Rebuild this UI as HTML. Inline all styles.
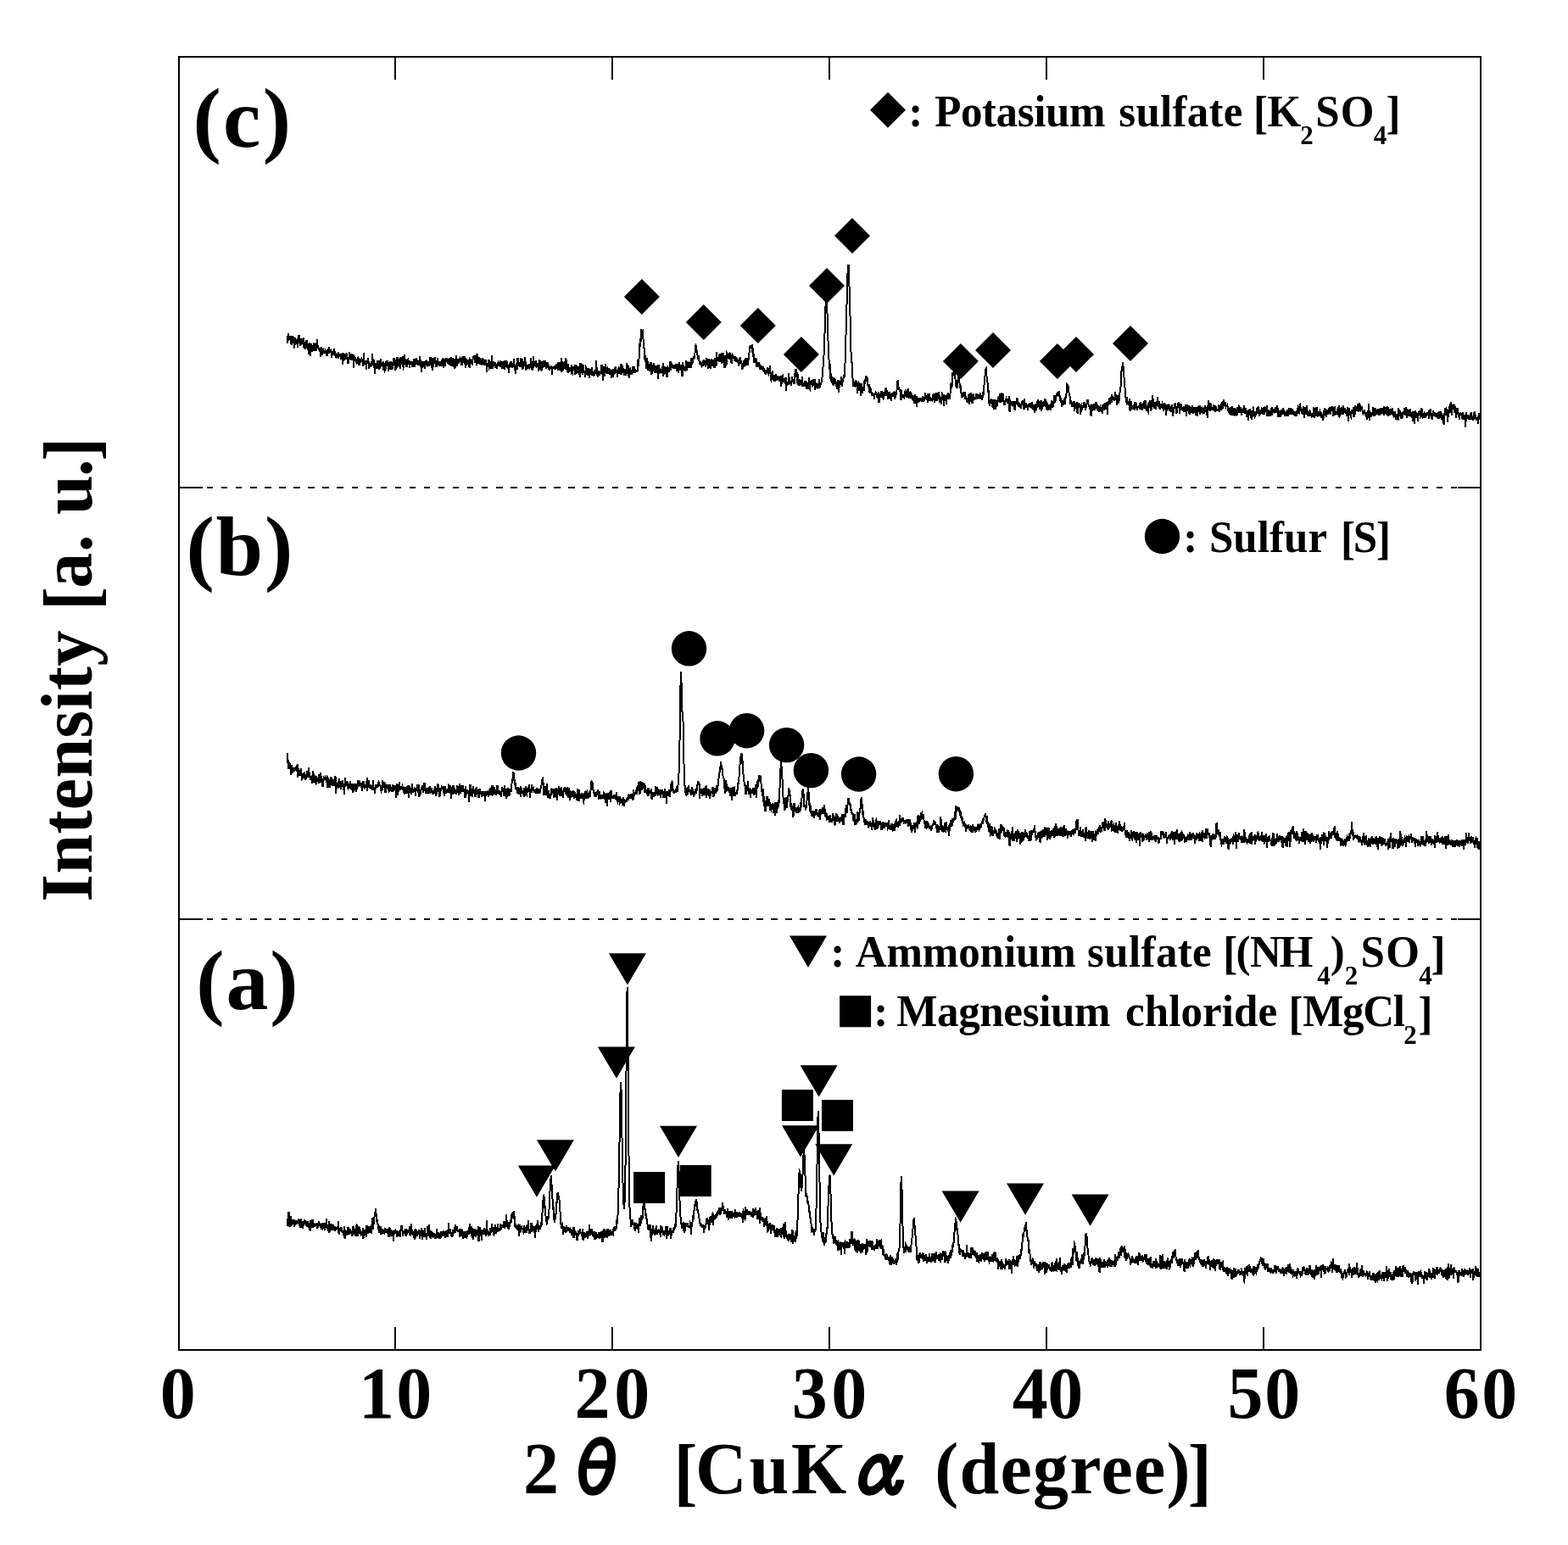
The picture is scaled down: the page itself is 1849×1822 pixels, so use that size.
<!DOCTYPE html>
<html lang="en">
<head>
<meta charset="utf-8">
<title>XRD patterns</title>
<style>
html,body{margin:0;padding:0;background:#fff;}
body{width:1849px;height:1822px;overflow:hidden;}
svg{display:block;}
</style>
</head>
<body>
<svg width="1849" height="1822" viewBox="0 0 1849 1822">
<rect width="1849" height="1822" fill="#fff"/>
<g id="frame" shape-rendering="crispEdges">
<rect x="211" y="67" width="1535" height="1525" fill="none" stroke="#000" stroke-width="2"/>
<path d="M466 67v27M466 1592v-27M722 67v27M722 1592v-27M978 67v27M978 1592v-27M1234 67v27M1234 1592v-27M1490 67v27M1490 1592v-27M211 575h27.5M1746 575h-27.5M211 1084h27.5M1746 1084h-27.5" fill="none" stroke="#000" stroke-width="2"/>
<path d="M209.8 575H1746" fill="none" stroke="#000" stroke-width="2" stroke-dasharray="7.4 9.66"/>
<path d="M209.8 1084H1746" fill="none" stroke="#000" stroke-width="2" stroke-dasharray="7.4 9.66"/>
</g>
<g id="curves" fill="none" stroke="#000" stroke-width="2" stroke-linejoin="miter" shape-rendering="crispEdges">
<path d="M338.5 405.1l.4-4.6 .4-.9 .4-6.7 .4 5.7 .4 0 .4 1.1 .4-1.7 .4 2.2 .4-1.4 .4-2.7 .4 7.8 .4 .2 .4 3.1 .4-5.7 .4-1.4 .4-.4 .4-3.4 .4 9 .4-7.2 .4-.3 .4 3.5 .4 9.7 .4-8 .4-4.3 .4 1.2 .4 4.7 .4-2.6 .4-2.1 .4 2 .4 3.5 .4 4.4 .4-11.1 .4 2.3 .4-.4 .4-5.5 .4 5.4 .4-.2 .4 7.8 .4-4.2 .4-5 .4 8.1 .4-3.3 .4-4.6 .4 4.2 .4 .2 .4-.8 .4 3.4 .4-7.9 .4 7.1 .4 4.6 .4-.5 .4 1.1 .4 .1 .4 1.4 .4-9 .4 6.9 .4-9.3 .4 4.5 .4-4.5 .4 10.4 .4 1.2 .4-5.3 .4 11.4 .4-12.8 .4 3 .4 .1 .4-4.1 .4 5.4 .4 10 .4-14.8 .4 6.8 .4-3.5 .4 6.8 .4-4.4 .4 .7 .4 0 .4-1.3 .4-5.7 .4 9.8 .4-9.6 .4 5.7 .4 1.4 .4-5 .4 3.6 .4 3.7 .4-4 .4-2.8 .4-6.9 .4 7 .4 1.6 .4-.8 .4 0 .4 5 .4-3.1 .4 1.9 .4 3.1 .4-5.1 .4 2.1 .4 8.8 .4-4.3 .4-7.4 .4 4.4 .4 2.4 .4 2.5 .4-3.7 .4-2.3 .4-.6 .4 4.9 .4-1.1 .4-2.8 .4 1.2 .4-.7 .4 4 .4-4.8 .4 4.1 .4 1.4 .4-1.2 .4-4.6 .4 7.7 .4-7.2 .4 3.9 .4-4.2 .4-3.5 .4 6.9 .4 .2 .4-1.3 .4 1.2 .4-3.2 .4-.3 .4 2.1 .4 7.3 .4-3.7 .4-4.5 .4 5.3 .4-4.8 .4 .3 .4 4.9 .4-4.6 .4-3.8 .4 3 .4 3.8 .4 .4 .4 4.2 .4-6.5 .4 5.3 .4-.8 .4-1.8 .4 3.6 .4-1 .4-4.6 .4 6.8 .4-7.9 .4 4.5 .4-.2 .4 1.5 .4-4 .4 2.5 .4-.4 .4 4.1 .4-6.3 .4 3.2 .4-1.1 .4-3.5 .4 14 .4-9.4 .4-4.8 .4 10.3 .4-8.4 .4 5.2 .4 1.9 .4-5.1 .4 .9 .4-1.6 .4 2.9 .4-5.1 .4 1.5 .4 3.9 .4 4.2 .4-1.4 .4 3.9 .4-3.6 .4-4.3 .4 1.4 .4-6.8 .4 3.7 .4-.2 .4 4.4 .4 1.3 .4-4.3 .4-.1 .4-3.3 .4 4.9 .4 1.4 .4 .7 .4-6.1 .4 16.6 .4-7.6 .4-4.4 .4-1.3 .4 .8 .4 1.8 .4-.5 .4 1.9 .4 1.1 .4 2.1 .4-.6 .4-4.4 .4 1.8 .4-2.6 .4-.7 .4 8.9 .4-8.3 .4 8.7 .4-8.1 .4 2.1 .4 3.1 .4-3.7 .4 1.5 .4-2.1 .4-.7 .4 1.2 .4-1.5 .4 8.1 .4-6.1 .4 6.8 .4-15.3 .4 9.6 .4 2.1 .4-2.8 .4 4.9 .4-1.5 .4-3.1 .4 2.5 .4 8.3 .4-8.9 .4 .1 .4-2.6 .4 1.9 .4-5.1 .4 3.7 .4 9.2 .4-5 .4-1.7 .4 4.2 .4 0 .4-4.6 .4 5.1 .4-3.5 .4-3.1 .4 5.5 .4-14.1 .4 6.4 .4 3.1 .4-3.9 .4 2.9 .4-1.4 .4 .3 .4 16.3 .4-11.2 .4-2.1 .4 5.1 .4-5.1 .4 4.2 .4-1.7 .4 4.7 .4-10.4 .4 7.8 .4-2.2 .4-4.4 .4 7.9 .4-8.9 .4 10.8 .4-3.9 .4 .6 .4-2.3 .4 2.8 .4-9.8 .4 6.7 .4-2.5 .4 3.1 .4-1.2 .4 2.3 .4-5.2 .4 9.3 .4 1.7 .4-8.8 .4 .7 .4 1.2 .4 6.7 .4-.7 .4-10.7 .4 2.3 .4-1.3 .4 0 .4-1.6 .4 7.1 .4-5.1 .4 9.4 .4 .2 .4-8.9 .4 0 .4 1.4 .4 7 .4-7.9 .4-2.4 .4 5 .4 1.3 .4-3.7 .4 7.9 .4-5 .4 .7 .4-4.7 .4 2.7 .4-.5 .4-7.5 .4 8.9 .4-7.4 .4 6.1 .4-5.2 .4 12.1 .4-6 .4 1.8 .4 .1 .4-7.9 .4-3.5 .4 6.7 .4 4.2 .4-2.9 .4 2.3 .4 .4 .4-8.6 .4 6.1 .4 5.8 .4-10.4 .4-3.7 .4 6.2 .4-.8 .4 4 .4-5.6 .4 3.5 .4-8 .4 10.8 .4 2.7 .4-.9 .4-9.7 .4 6.6 .4-11.4 .4 11.6 .4-1.1 .4-5.6 .4 7.3 .4-.7 .4 2.9 .4-2.9 .4 .4 .4-7.7 .4 2.6 .4 2.3 .4 2.6 .4-1.3 .4 5.1 .4-8.5 .4 2.1 .4 1.5 .4-1.9 .4 2.4 .4-3.8 .4 6.9 .4-6.2 .4 5.1 .4-4 .4 5.4 .4-10 .4 6.8 .4-3.1 .4 2.5 .4 3.5 .4-8 .4-.5 .4 1.3 .4 4.5 .4-7.3 .4 7 .4-4.8 .4 .5 .4 2.8 .4 2.6 .4-3.6 .4 .5 .4 1.5 .4-.8 .4-8.4 .4 7.8 .4 2 .4 3.3 .4 5.9 .4-7.4 .4-2.1 .4-3.7 .4 3.7 .4 2.3 .4 1.6 .4-7.6 .4 3.8 .4 1.9 .4 3.6 .4-5.8 .4-2.9 .4-.7 .4 1.1 .4-1.2 .4 5.1 .4 .8 .4-1.3 .4 1.6 .4-5.9 .4 2.9 .4-2.7 .4 1.4 .4 4.1 .4-4.4 .4-6.5 .4 5.6 .4-1.7 .4-2.9 .4 2.4 .4 6.1 .4 6.5 .4-11.8 .4 5.1 .4 .6 .4-8.3 .4 3.9 .4-.1 .4 .8 .4-6.2 .4 4.4 .4 5 .4 .7 .4 2.1 .4-7.5 .4 7.8 .4-4.1 .4-7 .4 7.5 .4-3.7 .4 3.2 .4-2.1 .4 4.7 .4-3.2 .4-1.8 .4 4.4 .4-2.4 .4-2.3 .4 5.9 .4-5.9 .4-2.4 .4 1.8 .4-3.3 .4 3.1 .4 8.4 .4-9.8 .4 3.1 .4-4 .4 1.6 .4 7.4 .4-2.3 .4-5.3 .4 2.1 .4-4.9 .4 2.1 .4-.4 .4 .1 .4 4.4 .4 1 .4-.2 .4-2.2 .4-4.1 .4 4.6 .4-2.9 .4 6.4 .4-1.1 .4 .6 .4-3.8 .4-5.1 .4 9.6 .4 .9 .4-9.6 .4 5.6 .4 3.5 .4-8 .4 9.8 .4-7.5 .4-2.7 .4 11.8 .4-7.2 .4-3.4 .4 5.3 .4-10 .4 13.1 .4-9.2 .4 3.9 .4-2.4 .4 2.9 .4 1.7 .4-6 .4 5.7 .4-3.7 .4-1.3 .4 1.7 .4-2.7 .4 .8 .4 6.1 .4-3.8 .4 4.6 .4-2.5 .4-5.1 .4-3.1 .4 4.2 .4 3.3 .4-1 .4-2.9 .4 6.4 .4-9.7 .4 1.7 .4 5.2 .4 6.9 .4-6.2 .4-4.9 .4 5.6 .4 .4 .4 .9 .4-4.6 .4-1.4 .4 3.3 .4 1 .4 4.2 .4 1.7 .4-9.9 .4 .6 .4 1.6 .4-.7 .4 2.4 .4-.1 .4-.9 .4 3.7 .4-5.4 .4-3.2 .4-2 .4 1.8 .4-.2 .4-3.1 .4 8.7 .4-1.8 .4-2.2 .4-1.7 .4-2.5 .4 2.3 .4 9.6 .4-14.2 .4 8.3 .4 4 .4-3.6 .4-1.8 .4 3.9 .4-6.4 .4 5.9 .4 3.2 .4-8.6 .4 1 .4 3.4 .4 3.2 .4 1.3 .4-2.2 .4-4.5 .4-1.4 .4 4.9 .4 .7 .4-5.1 .4 4.2 .4 1.1 .4 2.7 .4-6.9 .4 5.5 .4-5.9 .4 2.8 .4 1.3 .4 5.7 .4 5.5 .4-9.7 .4 .9 .4 1.9 .4-8.2 .4 9.3 .4-8.8 .4 10.1 .4-.6 .4-3.3 .4-4.5 .4 8.7 .4-4.9 .4-.5 .4 1.6 .4-12.2 .4 11.7 .4 4.5 .4-4.8 .4-.7 .4-3.8 .4 5.6 .4-1.6 .4-.7 .4-2 .4 4.9 .4 1.4 .4-3.1 .4 1.8 .4 1.4 .4 .9 .4-4.8 .4-1.6 .4-.8 .4 1.5 .4 1.8 .4 1.3 .4-4.8 .4 1.9 .4-4 .4 7.9 .4-5.8 .4 2.7 .4-3.7 .4 1.6 .4-1.3 .4 8.5 .4-4.5 .4-1.7 .4-2.5 .4 1.4 .4 4.3 .4 4 .4-10.6 .4 2 .4 2.8 .4-1.5 .4-3.4 .4 6 .4 2.6 .4-8.1 .4 6.3 .4 2.6 .4 .1 .4-5 .4 10.8 .4-7.6 .4-4.9 .4 6.1 .4-7.5 .4 6.9 .4-7.7 .4 7 .4-5 .4 5.9 .4-1.5 .4-.1 .4-2.5 .4 3.5 .4-10.2 .4 7.8 .4 0 .4 .5 .4 1 .4 8.8 .4-11.2 .4 2.5 .4-2.2 .4 5 .4-12.5 .4 13.1 .4-8.2 .4-5.5 .4 4.2 .4 3.1 .4 1.3 .4-.8 .4 3 .4-3 .4-.2 .4-7.3 .4 9.2 .4 1.8 .4-5 .4-5.1 .4 1.9 .4 10.5 .4-7.9 .4-.2 .4-.4 .4 5.3 .4-4.3 .4-.9 .4-5.8 .4 8.7 .4 6.5 .4-6.7 .4 6.3 .4-4.5 .4 .1 .4 .2 .4-.4 .4 3.6 .4-1.9 .4-3.6 .4 2.4 .4-.7 .4 1.9 .4-1.1 .4 1.8 .4-11.4 .4 10 .4 3.2 .4-9.4 .4 10.2 .4-4.7 .4-1.8 .4-10.1 .4 14.4 .4-7.2 .4 1.6 .4 3.7 .4-5.5 .4 .1 .4-.5 .4 3.6 .4 2.5 .4-.6 .4 .1 .4-2.7 .4 1.7 .4-2.9 .4 9.4 .4-5.8 .4-8.1 .4 3.1 .4 9.2 .4-10.4 .4 3.2 .4 2.8 .4-5.3 .4 10.1 .4-.5 .4-8.8 .4 6.8 .4-7.1 .4-.4 .4 5 .4-.6 .4-2.8 .4 5.1 .4-7.9 .4 2.3 .4-.6 .4 6.7 .4 .4 .4-.2 .4-6.6 .4 5.2 .4 1.4 .4-6.9 .4 3 .4 5.4 .4 .4 .4-1.4 .4 1.2 .4-.6 .4-.5 .4-.9 .4-2.6 .4 2.2 .4-.6 .4 9.5 .4-7.3 .4-1 .4-.8 .4 0 .4-1 .4 3.4 .4-2.1 .4 2.9 .4-5.4 .4 3.6 .4 1.8 .4-7.2 .4 4.6 .4 .3 .4-2 .4-.5 .4-4.7 .4 10.5 .4-7.2 .4-.9 .4 6.7 .4-8.6 .4 9.9 .4-1.8 .4 .7 .4-2.7 .4-3.7 .4-7 .4 16 .4-8.2 .4 .4 .4 6.6 .4-8.3 .4 .6 .4-.5 .4-.1 .4-3 .4 2 .4 6.9 .4 .9 .4-13.7 .4 4.3 .4 8.6 .4-.9 .4-.5 .4 5.2 .4-9.6 .4 10.5 .4-3.7 .4 1.4 .4-1.1 .4 2 .4-3.9 .4-1.1 .4 4.5 .4-2.2 .4-5.1 .4 9.1 .4-.5 .4 .8 .4-4.8 .4 1 .4-2.5 .4-1.9 .4 3.7 .4 .6 .4-2.8 .4 8.9 .4-11.9 .4 1 .4 2.6 .4 7 .4-5.4 .4-.2 .4-1.9 .4 .4 .4-1.9 .4 8 .4-1.5 .4 3.7 .4-8.3 .4 11 .4-12.3 .4-3.9 .4 6.1 .4 1.4 .4 4 .4-10.6 .4 8.1 .4 4 .4-8.9 .4 .4 .4-3.2 .4 6.9 .4 2.3 .4-.2 .4 .4 .4 5.6 .4-7.8 .4 5.4 .4-8.8 .4 .7 .4 3.7 .4-3.6 .4 5 .4 3 .4-3.3 .4-3.9 .4 0 .4 10.8 .4-10.8 .4 3.2 .4-1.2 .4 1.2 .4 3.7 .4-5.7 .4-3 .4 10 .4-4.2 .4 3.5 .4-4.3 .4 2.7 .4 1.8 .4 .3 .4-5.8 .4-.2 .4 2.6 .4-.7 .4 1.3 .4-4.5 .4-10.6 .4 14.8 .4 1.2 .4-.5 .4 3.6 .4-2.7 .4-4.3 .4 4.8 .4-3.7 .4 4.7 .4-3.6 .4 .8 .4-.9 .4-.6 .4-9.2 .4 9 .4-8.2 .4 9.5 .4 1.6 .4 7.7 .4-10.1 .4-3.9 .4-3.2 .4 12.2 .4-11.9 .4 8 .4-11.3 .4 7.9 .4 2.5 .4-1.3 .4-1.3 .4-2.7 .4-.3 .4 6.7 .4-1.9 .4-2 .4 1.4 .4-3.9 .4 6.9 .4 1 .4-7 .4 3.3 .4 3.5 .4-5.8 .4 9.6 .4-1.7 .4-6.1 .4 4.5 .4 2.4 .4-10.1 .4 6.6 .4-2.7 .4-.3 .4 3.1 .4-4.2 .4-3.4 .4-.3 .4 4.8 .4 2 .4-2.5 .4-.6 .4 .2 .4 7.6 .4-6 .4-4.6 .4 1.5 .4 5.1 .4-6.3 .4 .6 .4 1.2 .4-3.6 .4 6.9 .4-10.8 .4 12.8 .4-6.6 .4-5.9 .4 8.6 .4-6.9 .4 7.9 .4 .9 .4-4.6 .4 .7 .4 7 .4-7.9 .4 2.5 .4 1.1 .4 4.3 .4-7.2 .4 1.9 .4 3.8 .4-12.9 .4 7.9 .4-5.8 .4 .2 .4 13.2 .4-6.2 .4 8 .4-9.7 .4 2.7 .4-3.5 .4-.4 .4 1.6 .4 .7 .4 4.8 .4-6 .4 2 .4-2.3 .4 1.4 .4-5 .4 8.3 .4-5.7 .4 1.9 .4-.9 .4 4 .4-1.7 .4-2 .4 .3 .4 .2 .4 .9 .4-.4 .4 .5 .4-.2 .4-5 .4-8.4 .4 7.5 .4-1.8 .4-12.3 .4-3.3 .4-9.2 .4 3.9 .4-9.5 .4 3.8 .4-15.1 .4 4.7 .4 .8 .4-2.3 .4-.5 .4 7.6 .4 1.7 .4 4.7 .4 5.2 .4 1.4 .4 5.9 .4 6.6 .4-.9 .4 4.1 .4-1.2 .4 9.3 .4-8.5 .4 8.4 .4-13.1 .4 7.7 .4-2.1 .4 9.1 .4-2.4 .4-5.4 .4 2.6 .4 6.6 .4-4.8 .4 2.2 .4-7.2 .4 0 .4 7.3 .4 6.1 .4-9.8 .4 4 .4-5.2 .4 7.8 .4-5.7 .4 .2 .4-4.8 .4 5.4 .4 2.3 .4 4.4 .4-8.7 .4 7.8 .4-4.4 .4 .4 .4-2 .4-2.5 .4 1.9 .4 14 .4-13.6 .4 2.7 .4 5.4 .4-11.2 .4 9 .4-3.4 .4 2.4 .4 2.3 .4-3.6 .4-.3 .4 3.1 .4-.4 .4-4.9 .4 1.8 .4-7.6 .4 15.6 .4-11.9 .4 4.9 .4 5.4 .4-3.4 .4-3.8 .4-1.6 .4 .4 .4 5.3 .4-2.1 .4-1.2 .4 9 .4-12.1 .4-.3 .4 1.6 .4 1.9 .4 .8 .4-2.8 .4 3.3 .4-.8 .4-3.1 .4-7.6 .4 11.2 .4-6.1 .4-.7 .4 3.4 .4-3.8 .4 1.5 .4 3 .4-1.4 .4 2.3 .4-4.1 .4 2.1 .4-2.9 .4 2.6 .4 2 .4-1.9 .4-4.3 .4 4.3 .4 1.1 .4 3.4 .4-4.1 .4-1.4 .4-2.7 .4 11.1 .4-10.3 .4-.6 .4 3.4 .4-5.8 .4 10.2 .4-3.1 .4 1.2 .4-5.1 .4 1.6 .4 6.8 .4-1.8 .4 6.8 .4-6.1 .4-10.5 .4 6.8 .4-1.6 .4 4.9 .4-4.3 .4 1.9 .4-3 .4 3 .4 2.7 .4-7.5 .4-5.2 .4 3.2 .4 8.8 .4-4.9 .4-2 .4-2.5 .4 6.8 .4-2.8 .4-1.6 .4-1.6 .4 1.2 .4-.7 .4 3 .4 2.2 .4-11.4 .4 1.5 .4 4.4 .4 .2 .4-6.2 .4 .9 .4 1.3 .4-1.6 .4-1.9 .4-.9 .4 .6 .4-3.2 .4-3.1 .4-3.1 .4-4.3 .4 .7 .4 6.3 .4-1.1 .4 4.8 .4 1 .4 1.9 .4 3.4 .4-4.9 .4 5.5 .4-.1 .4 5.6 .4-4.8 .4 3.3 .4-2.2 .4 3.2 .4 .8 .4-3.3 .4 1 .4 .2 .4 3.7 .4-6.6 .4 2.2 .4-1.7 .4-1.9 .4 4 .4 .9 .4-4.3 .4 8.4 .4-8 .4 5.3 .4-1.2 .4-7.2 .4 6 .4-5.4 .4 5.2 .4 2.8 .4 4.2 .4-3.7 .4-8.1 .4 4.1 .4 6.5 .4-4.6 .4 5.5 .4-10.8 .4 2.5 .4-2.9 .4 3.3 .4 5.7 .4-7.8 .4 6 .4-1.4 .4 1 .4-3.9 .4 .8 .4 7.2 .4-12 .4 6.8 .4 2.4 .4-3.9 .4 3.9 .4-16.4 .4 9.1 .4-3.3 .4 2.5 .4 .9 .4 1.9 .4-4.9 .4 6 .4-8.7 .4 8.8 .4-4.3 .4-5.4 .4 0 .4-.1 .4 2.8 .4 4 .4 4.3 .4-1.7 .4-7.3 .4-3.2 .4 7.2 .4-3.8 .4 4.5 .4-1.7 .4 11.4 .4-14.9 .4 7.1 .4 5.3 .4-8 .4-1.5 .4 8.2 .4-13.7 .4 .7 .4 .7 .4 4.2 .4-.2 .4-4.6 .4 6.7 .4-8.3 .4 1.2 .4 .2 .4 6.5 .4-2.9 .4-.4 .4 8 .4-.9 .4-.8 .4-7.9 .4 .8 .4 2.9 .4-.1 .4-.6 .4 .7 .4 3.1 .4-5.8 .4 4.5 .4-2.1 .4-.2 .4 .9 .4 3.8 .4-1.4 .4-3.5 .4 4.2 .4-.4 .4 1.3 .4-2.1 .4 7.1 .4-4.2 .4-5 .4-.2 .4-.2 .4 6.6 .4-3.6 .4 1.4 .4 1.2 .4 4.7 .4 3.4 .4-8 .4 7.4 .4-5.1 .4 2.3 .4-5.3 .4-3.5 .4 5.8 .4 2.7 .4-10.2 .4 4.9 .4 1.4 .4 .5 .4-6.2 .4 1.4 .4 4.6 .4 2.2 .4-7 .4 1.4 .4-4.7 .4-1.4 .4-5.4 .4-2.2 .4-3.7 .4 .2 .4 2.2 .4-2.5 .4 3.1 .4-1.7 .4 7.1 .4-9.8 .4 8.2 .4 5.9 .4-3.3 .4 9.6 .4-.1 .4-3.1 .4 4.1 .4-5.1 .4 2.5 .4 2.1 .4-4 .4 9.5 .4-5.7 .4 6 .4-3.9 .4 1.7 .4-4.1 .4 2.2 .4-.3 .4 2.6 .4 4.4 .4-6.4 .4 1.8 .4 2.3 .4 2.2 .4-3 .4-.6 .4-.2 .4 2.5 .4 1.2 .4-2.8 .4 1.7 .4 4.1 .4-2.4 .4-1.5 .4 4.8 .4 2 .4-1.8 .4 .5 .4-3.5 .4 2.3 .4 .6 .4-.4 .4-6.4 .4 6.4 .4 1.6 .4 .8 .4-2.5 .4 1.5 .4-6 .4 1.5 .4-4.8 .4 9.9 .4 6.8 .4 .7 .4-9.8 .4 6.5 .4 2.4 .4-5.2 .4-5.6 .4 12.1 .4-6.1 .4 0 .4 7.5 .4-4.2 .4 1.4 .4 2.8 .4-6.1 .4-2.8 .4 6.3 .4-2.6 .4 2.8 .4 0 .4-4.9 .4 3 .4-1 .4 .6 .4 .9 .4 1.7 .4-.3 .4-5 .4 6.9 .4-7.1 .4 12.9 .4-10.3 .4 2.5 .4 4.9 .4-5.4 .4-3.8 .4-.6 .4 5.9 .4 .4 .4 1.4 .4-1.9 .4-2.7 .4 3.4 .4 3.5 .4-7.7 .4 15.4 .4-13.8 .4 5.9 .4 2.4 .4-3.2 .4-1.9 .4 1.7 .4 2.4 .4-13.7 .4 11.1 .4-2.8 .4-.8 .4 3 .4 .4 .4 1.3 .4-3.7 .4 6.1 .4-11.2 .4 3.9 .4-.9 .4 4.5 .4-2.4 .4 4.4 .4-6.6 .4 6 .4-3.5 .4-6.2 .4-6 .4-.2 .4-2.1 .4 9.4 .4-.2 .4-4.8 .4 12.6 .4-5.7 .4-5.4 .4 12.4 .4 1.4 .4-4.2 .4-2.9 .4 7.6 .4-5.9 .4 1.8 .4 1.9 .4-.5 .4-2.5 .4-1.9 .4 8.3 .4-12 .4 9 .4 0 .4 1.1 .4-2.9 .4 2.2 .4 2.2 .4-6.2 .4 4 .4 2.2 .4-6.5 .4 1.2 .4 8.9 .4-1.8 .4-6.2 .4 5.2 .4-1.2 .4 3.5 .4-1 .4-12.6 .4 7.3 .4 5.7 .4 .8 .4-8 .4-2.3 .4 5.1 .4-3.3 .4 2.1 .4-4.1 .4 6.7 .4-.6 .4-.4 .4-5.3 .4-2 .4 1.6 .4 6.3 .4-7.9 .4 8.7 .4 4.1 .4-8.2 .4 1.6 .4 4.2 .4-.2 .4-5.3 .4 1.5 .4 .9 .4-1.4 .4 2.7 .4-1 .4 3.1 .4-10.6 .4 9.6 .4-1.7 .4-3.7 .4 1.4 .4 1.1 .4-3.2 .4-3.2 .4 .6 .4-6.4 .4-5.5 .4-3.4 .4-5.8 .4-5.1 .4-6.3 .4-14 .4-8.8 .4-15.8 .4-12.1 .4-8.7 .4-5.1 .4 1.2 .4 8.2 .4 2.2 .4 15.3 .4 10.4 .4 13.8 .4 7.3 .4 12.6 .4 4.1 .4 9.5 .4-6.3 .4 14 .4 3.3 .4-6.1 .4 9.3 .4-5.9 .4 7.8 .4-3 .4 2.7 .4-.9 .4-5.1 .4 9.6 .4-1 .4-7.4 .4 5.6 .4-.1 .4-3.7 .4-1 .4 8.2 .4-5.5 .4 4.8 .4 3.7 .4-4.6 .4-4.5 .4 6.7 .4-7.9 .4 1.8 .4 13.2 .4-12.6 .4 3.9 .4-4.8 .4 3.1 .4 1 .4-9.9 .4 6.5 .4 4.1 .4 .2 .4-2.4 .4-5.1 .4 3.3 .4-4.6 .4-3 .4-.6 .4 2.9 .4-15.4 .4-1.6 .4-11.6 .4-16 .4-11.8 .4-13.3 .4-16.7 .4-14.1 .4-17.3 .4-11.2 .4-2.5 .4-1.8 .4 4.8 .4 12.9 .4 18.3 .4 11.3 .4 14.1 .4 20.8 .4 16.4 .4 9.9 .4 2.1 .4 5.1 .4 15.8 .4-.3 .4 5.3 .4 0 .4 7.9 .4-4.1 .4-.4 .4 2.3 .4-3.9 .4 5.1 .4-.4 .4-6.6 .4 3.7 .4-.1 .4-.8 .4 6.9 .4 5.7 .4-5.2 .4-6 .4-.8 .4 9.1 .4-3.6 .4 1 .4-4 .4-2.3 .4 14.8 .4-9.6 .4 1.5 .4-6.1 .4 11.9 .4-6.6 .4 .3 .4 .2 .4-.9 .4 3.8 .4-12 .4 6.8 .4-5.6 .4-.9 .4-2.1 .4 2.9 .4-7.1 .4 2.2 .4 3.8 .4-3.9 .4 3 .4 5.3 .4 0 .4 .4 .4 3 .4-3.9 .4 9.4 .4-5.5 .4-.9 .4 7.8 .4-5.4 .4 1.8 .4 3 .4 3.6 .4-3.7 .4 .5 .4 .3 .4 3.1 .4-2.8 .4 2.8 .4 4.1 .4-5.3 .4-1.6 .4-.8 .4 .6 .4-1.7 .4 .4 .4 1.8 .4 3.1 .4 .5 .4-3.3 .4 2.6 .4-5.7 .4 11.7 .4 1.4 .4-9.1 .4 2.2 .4-1.4 .4 2.3 .4-4.9 .4-3.1 .4 8.1 .4-6.7 .4 5 .4-4.5 .4 .4 .4 6.1 .4 2.1 .4-6.3 .4-2.2 .4 3.6 .4-3 .4-4.2 .4 5.9 .4-7.7 .4 9.3 .4-3.3 .4 2.5 .4-5.8 .4 2.6 .4 4.7 .4 2.9 .4-1.7 .4-1.5 .4-5 .4 6 .4-1.4 .4-2.3 .4 6.7 .4-7.1 .4 9 .4-8.3 .4 0 .4 2.2 .4-4.2 .4 3 .4 1.9 .4-6.1 .4 3 .4-2 .4 3.2 .4 5.3 .4-5.9 .4 .3 .4 .4 .4-6.1 .4 2.4 .4-5.1 .4-3.2 .4-5.7 .4 2.1 .4 5.7 .4 2.5 .4-2.2 .4 3.9 .4 .6 .4-.5 .4-1.3 .4 12.8 .4-11.4 .4 6.9 .4 4.8 .4-6.7 .4 .7 .4 1.5 .4-2.2 .4 2.1 .4-2.2 .4 5.1 .4-2.4 .4-6 .4-.6 .4 2.2 .4 0 .4-.7 .4 5.7 .4-5.9 .4 .9 .4 2 .4-7.4 .4 8.4 .4 .6 .4 3 .4-8.1 .4 2.1 .4 2.6 .4-1.8 .4-3.4 .4 8.6 .4-3.8 .4 2.5 .4-4.6 .4 7.4 .4-4.3 .4-1 .4 5.5 .4 1.3 .4-6.9 .4 7 .4 2.3 .4-4.6 .4-5.7 .4 7 .4 1.9 .4-7.2 .4 13 .4-10 .4 0 .4 4.5 .4-3.1 .4 3.6 .4-4.4 .4 1.3 .4-1.3 .4 .7 .4 1.1 .4-.5 .4-2.8 .4 4.2 .4-3.7 .4 4.5 .4-2.2 .4-2.5 .4-2.3 .4 2.7 .4 4.6 .4-4.2 .4 2.7 .4-3.7 .4-.8 .4-1.3 .4-4.4 .4 7.9 .4-1 .4-.3 .4 2.9 .4-6.2 .4 9.3 .4-11.1 .4 5.9 .4-5.1 .4 3.1 .4 5 .4-9.4 .4 5.8 .4 0 .4-.1 .4 .3 .4 1.9 .4-1.1 .4-.4 .4 1.8 .4-.8 .4-3.1 .4-3.6 .4 7.1 .4-4 .4 7 .4-7.8 .4-2.2 .4 8.1 .4-6.6 .4-2.6 .4 9.3 .4-9.2 .4 9.7 .4-7.9 .4 4.9 .4-.6 .4-7.1 .4 6.4 .4-1.3 .4 2 .4 1.4 .4 3.8 .4-6.3 .4 .5 .4 7.9 .4-4.9 .4 .1 .4-8 .4 .4 .4 2.9 .4 1.2 .4 2.4 .4 7.8 .4-13.9 .4 2.9 .4 3.6 .4-1.2 .4 2.9 .4-4.9 .4-2.1 .4 10.4 .4-5.8 .4-5.8 .4 2.9 .4 .8 .4-5.1 .4 7.5 .4-2.6 .4-2.3 .4-1.8 .4 6.7 .4-7.3 .4-4.1 .4-6.3 .4-1.9 .4 5.2 .4-.7 .4-11.5 .4-5.6 .4 3.6 .4-2 .4 1.9 .4-4.2 .4 3.8 .4-3.7 .4 4.3 .4 4.5 .4 2.5 .4 4.7 .4 3.1 .4-8.3 .4 9.1 .4-9.1 .4-.7 .4 3.1 .4-12.1 .4 2.6 .4 2.8 .4 4.6 .4 5.7 .4 2.9 .4-3.7 .4 7.9 .4-1.8 .4 8.1 .4-4.8 .4 5.6 .4-6.5 .4 6.7 .4-7.1 .4 5.4 .4-5.8 .4 5.3 .4-2.1 .4-.6 .4 4.3 .4 2 .4-2.3 .4 .7 .4 1.4 .4 1.8 .4-.7 .4-2.1 .4 5.6 .4-8.7 .4 4.6 .4-6.7 .4 12.4 .4-9.1 .4 1.6 .4 4.4 .4-5.3 .4-2.2 .4-3.5 .4 5.6 .4 8.1 .4-6.5 .4 5.5 .4-3.2 .4-4.4 .4-3.4 .4 4.2 .4 2.8 .4-2.9 .4 1.3 .4 1.4 .4-3.3 .4-3.8 .4 3.9 .4 3.1 .4-7 .4 1.3 .4 .2 .4 2.7 .4 .5 .4 .3 .4-4.2 .4 4.6 .4-2.2 .4-1 .4-3 .4 2.5 .4 1.7 .4 2.5 .4 .6 .4-1.9 .4-.2 .4-6 .4 4.6 .4-2.5 .4-3.6 .4-7.3 .4-2.7 .4-5.3 .4-6.2 .4-.1 .4-5 .4-.5 .4 8.5 .4 3.2 .4 4.9 .4 .6 .4 5.6 .4 5.6 .4 .4 .4-2.7 .4 16.5 .4 1.1 .4-1.5 .4-3 .4-2.4 .4 3.5 .4 1.1 .4-5.4 .4 3.4 .4 3.8 .4 3.5 .4-2.9 .4-3.4 .4-2.9 .4 11.6 .4-6.6 .4 2.3 .4-2.6 .4-4.8 .4 12.1 .4-5.3 .4 1.7 .4-7.2 .4 2.2 .4 4.4 .4-6.4 .4-1.9 .4-2 .4-1.4 .4 6.8 .4-3.7 .4-6.5 .4 10.8 .4-1.2 .4-.5 .4-10.2 .4 6.8 .4 4.3 .4-7.6 .4 1.2 .4 2.4 .4-5.7 .4 8.1 .4 3 .4-.8 .4 3.2 .4-4.6 .4-.2 .4-.4 .4-1.7 .4-1.2 .4 1.2 .4 2.4 .4-1.6 .4 2.6 .4-.3 .4 2 .4-4 .4-5.4 .4 4 .4 14.8 .4-6.9 .4-5.7 .4 .8 .4 .6 .4-1.2 .4 2.9 .4 1.4 .4 2 .4-6.3 .4 1.2 .4 0 .4 1.4 .4 3.7 .4-6.3 .4 10.4 .4-5.7 .4 2 .4-7 .4 1.9 .4-.4 .4 2 .4-7.2 .4 8.9 .4-7.6 .4 7.3 .4 2.3 .4-3.7 .4-.7 .4 .4 .4-.2 .4 1.7 .4 2.3 .4-.9 .4 2.9 .4-4.9 .4-2.2 .4-.9 .4-1.7 .4 3 .4-.8 .4 8.4 .4-4.4 .4 4.5 .4-12.9 .4 7.8 .4 2.7 .4-2.4 .4-2.6 .4 2.4 .4-.1 .4 .2 .4 .6 .4 5 .4-5 .4 .3 .4-.9 .4 1.6 .4-4.1 .4 4.5 .4-3.1 .4 4.1 .4-5 .4 1.8 .4-.4 .4-2.9 .4 7.2 .4-1 .4-2.3 .4 4.2 .4-5.3 .4 1.2 .4 4 .4 4.8 .4-8.1 .4 5.4 .4-4.9 .4-3.3 .4 4.6 .4 2.6 .4-3.6 .4 .9 .4-5.4 .4-4.2 .4 8.7 .4-6 .4 4.6 .4-2.2 .4 3.1 .4 4 .4-11.3 .4 5.2 .4-.2 .4 8.3 .4-7.9 .4-3.2 .4 .8 .4 8.2 .4-9.4 .4 3.3 .4 .7 .4-4.9 .4 1.2 .4-3.9 .4 3.8 .4 5.6 .4-1.4 .4-7.1 .4 11.7 .4-9.4 .4 1.5 .4 9.1 .4-3.7 .4-1.7 .4 5.6 .4-5.2 .4 1.6 .4-3.1 .4 1.7 .4 .2 .4 4.1 .4-6 .4 1.4 .4-6.9 .4 1.3 .4 8 .4-4.1 .4-.4 .4 2.6 .4-4 .4 .5 .4-3.1 .4-6.4 .4 7.3 .4 1.3 .4-2.6 .4-5.2 .4-.8 .4-.9 .4 2.6 .4-1.5 .4-4.9 .4 1.1 .4 .5 .4 0 .4 1.1 .4 3 .4-6 .4 11.2 .4-2.2 .4-1.4 .4 4.4 .4-1.1 .4 7.3 .4-7.3 .4 4.4 .4 1.1 .4-3.9 .4-1.3 .4 5.3 .4-3 .4-2.4 .4-2.6 .4 5.5 .4 1 .4-9.2 .4 .4 .4-1.8 .4-4 .4-8.1 .4 .7 .4-.9 .4 5.8 .4-4.8 .4 5.6 .4 2.8 .4 3.1 .4-2 .4 6.8 .4 6.1 .4-4.7 .4 3.1 .4-2.7 .4 4 .4 .6 .4 3 .4-5.3 .4 0 .4-1.6 .4 4.2 .4-.1 .4 7.1 .4-9.5 .4 4.6 .4-3.9 .4 .5 .4 5.4 .4-2 .4 .7 .4-6.2 .4 13.6 .4-1.6 .4-9.3 .4-1.9 .4 2.2 .4 3.3 .4-3.9 .4 4.1 .4-3.2 .4 11.6 .4-10.2 .4-.8 .4 8.2 .4-5.7 .4-1.2 .4-.2 .4 1.9 .4-3.4 .4 1.7 .4-2.3 .4-2.8 .4 3.4 .4 1.6 .4 4.8 .4-4.1 .4-2.6 .4 1.6 .4 1.5 .4-9.6 .4 6.2 .4-5.9 .4 1.5 .4 3.4 .4 2.1 .4 .7 .4 .4 .4 4.1 .4-2.8 .4-.1 .4-2.2 .4 12.3 .4-6.7 .4-6.2 .4 .1 .4 4.6 .4 .8 .4-4.4 .4 5 .4-7.8 .4 3.5 .4 4 .4-5.4 .4 2.4 .4-.5 .4-1.3 .4-5 .4 5.3 .4 1.7 .4 .1 .4 1.9 .4 .7 .4-4.4 .4 .6 .4 6.5 .4-2.6 .4-2.9 .4-.7 .4 4.5 .4 .1 .4-3.8 .4 2 .4-1.3 .4-.2 .4 6.5 .4-10.6 .4 6.9 .4-6.2 .4 1.2 .4 5 .4-7.5 .4 1 .4-.9 .4 1.5 .4 2.7 .4 2.5 .4-6.5 .4 4.8 .4-7.6 .4 15.1 .4-13.6 .4-.6 .4 2 .4-1.1 .4-1.4 .4-5.6 .4 7.9 .4-1 .4-4.2 .4-3.1 .4 4.2 .4 2.3 .4-9.8 .4 1.6 .4 3.5 .4-3.3 .4 1.2 .4 .5 .4 2.7 .4 0 .4 .7 .4-.2 .4-4.6 .4-5.4 .4 9.1 .4 .8 .4 .4 .4-3.2 .4 8.7 .4-11.3 .4 8.1 .4-.8 .4 .4 .4 .5 .4-4.4 .4-2.7 .4-4.8 .4-.4 .4-4.6 .4-4.3 .4-10.5 .4-6 .4-.1 .4-2.2 .4-7.2 .4 1.4 .4 3.7 .4 5.7 .4 4.7 .4 6.4 .4 1.6 .4 7 .4 9.8 .4-3.6 .4 11.2 .4-5.9 .4 3.5 .4-5.1 .4 6.9 .4-.7 .4 .1 .4 3.5 .4-4.4 .4 4.6 .4-7.3 .4 5.2 .4 9.5 .4-7.2 .4 1.7 .4-4.9 .4-1.2 .4 9.2 .4-1 .4-.4 .4-2.7 .4 4.2 .4-5.3 .4 4 .4 0 .4-7.2 .4 10 .4-4.3 .4 2.4 .4-7.9 .4 1.1 .4 2.5 .4 3.1 .4 2.2 .4-1.8 .4-2.7 .4 2.3 .4-2.8 .4 1.2 .4 .7 .4-3.7 .4 3.7 .4-6.4 .4 2.1 .4 6.5 .4-6.1 .4 3.8 .4-.4 .4-2.1 .4 5.8 .4-3.6 .4-3.7 .4 .1 .4 2.1 .4-5.6 .4 8.9 .4-4.2 .4-5.7 .4 2.5 .4 8.2 .4-4.1 .4 6.7 .4-7.3 .4 1.6 .4 5.1 .4 .7 .4-10.4 .4 6.3 .4-6.5 .4 2 .4-4.3 .4 7.9 .4-5.5 .4 .8 .4 9.1 .4-3.6 .4-3.7 .4-5.7 .4 7 .4-12.2 .4 7.8 .4 5.2 .4 .3 .4-2.3 .4 4.1 .4-4.1 .4-3.4 .4 2.8 .4 5.8 .4-6 .4 1.3 .4 1 .4-6.5 .4 1.5 .4-5.5 .4 11.4 .4-3 .4-2.8 .4 .1 .4 7.1 .4 .5 .4-1.3 .4-1.2 .4 1.7 .4-1.6 .4 1.2 .4-2.6 .4-2 .4 1 .4 3.5 .4 4.9 .4-8.7 .4-.9 .4 6.3 .4 .1 .4-5 .4 .5 .4 0 .4 4 .4 8.8 .4-12.9 .4 3.7 .4-2.6 .4 2.6 .4 .9 .4-.3 .4-4.1 .4 .2 .4 6.8 .4-2.1 .4-.1 .4 1.5 .4-4.6 .4 6.7 .4-7 .4-.9 .4 .2 .4 2.4 .4 9.8 .4-8.9 .4 .7 .4 4.2 .4-6.6 .4-3.7 .4 2.6 .4 .9 .4-4.4 .4 4.7 .4 1.4 .4 6.7 .4-4.2 .4-2.2 .4-2.1 .4-.7 .4-3.6 .4 5.8 .4-7.1 .4 7.3 .4 6.2 .4-6.9 .4 2.8 .4-4.4 .4-3.3 .4 7.3 .4-2.6 .4 3.4 .4-1.1 .4 1.7 .4-3.7 .4 3.5 .4 1.7 .4-6.9 .4 2.3 .4 4.8 .4-1.9 .4-2.5 .4-4.5 .4 4.3 .4 9.3 .4-9.9 .4 .8 .4-4.9 .4 5.1 .4 .3 .4 1 .4-3.3 .4-1.6 .4 11 .4-6.6 .4-3.4 .4 2.5 .4 2.3 .4 2.2 .4-2.6 .4-2 .4 3 .4-6.3 .4 1.6 .4 7.6 .4-3.4 .4-.9 .4-1.8 .4-1.8 .4 4.9 .4-.7 .4 5.7 .4-8.8 .4 2.9 .4-1.3 .4-1.9 .4 9.2 .4 1.4 .4-7.3 .4-5.3 .4 5.8 .4 .6 .4-3.8 .4-3.4 .4 11.6 .4-10.9 .4 8.5 .4-6 .4 1 .4 4.9 .4-7.3 .4 2.8 .4 1 .4 4.3 .4-.5 .4-2.9 .4-4.6 .4 8.3 .4-5.4 .4 2.4 .4-7.3 .4 5.7 .4 2.3 .4-3 .4 3.2 .4 2.2 .4 4.4 .4-11.1 .4-3.5 .4-6 .4 9.6 .4-4.7 .4 6.9 .4-9.1 .4 10.7 .4-3.7 .4-5.9 .4 6.3 .4 1 .4-.1 .4-1.9 .4 2.2 .4-.2 .4-2.8 .4 1.6 .4-4.5 .4 7.3 .4-6.9 .4 4.1 .4-3.3 .4 7.5 .4-2.6 .4-4 .4 4.5 .4-1.6 .4 3 .4-2.2 .4-.5 .4-.8 .4-5.1 .4 6.9 .4 1.9 .4-7.6 .4 4.4 .4 1.6 .4-1.6 .4 .5 .4-2.1 .4-5.1 .4 7.6 .4-7.6 .4-2.7 .4 9.1 .4-10.3 .4 4.8 .4-5.2 .4 6.6 .4 .9 .4-5 .4 4 .4 1.3 .4-1.8 .4 2.7 .4-1.3 .4-1.1 .4-.5 .4 5.4 .4 .7 .4 1.3 .4-.8 .4 .9 .4-3.4 .4 7.3 .4-8.6 .4 5.5 .4-3.1 .4-.4 .4 8 .4-5 .4-5.7 .4 5.3 .4-2.7 .4 8 .4-9 .4 3.1 .4-1.8 .4-.1 .4 6.5 .4-.4 .4 .5 .4-4.5 .4-1.4 .4 3.9 .4-3.1 .4 6.8 .4-10 .4 6.3 .4-5.7 .4 .9 .4-2.1 .4 1 .4 6.2 .4-4.3 .4-1.3 .4-.5 .4 .9 .4 1.6 .4 6.4 .4-5 .4-.4 .4-.3 .4 2.8 .4-5.7 .4 4.2 .4-4.9 .4-2.4 .4 9.8 .4-3.4 .4-.8 .4-2.6 .4 4.9 .4 6 .4-5.4 .4 .2 .4-2.1 .4 4.5 .4-6.1 .4 12.5 .4-8.9 .4-.5 .4 4.2 .4-7.8 .4 1.6 .4 0 .4 1.8 .4 6.9 .4-9.2 .4 11.6 .4-5.1 .4 2 .4-4.6 .4-6.1 .4-1.8 .4 11.2 .4-5.8 .4 2.2 .4 .4 .4 3.1 .4-.8 .4-3.5 .4-.9 .4 2.9 .4-7.1 .4 1.2 .4-2.2 .4 1.2 .4-2.1 .4 8.1 .4-3.8 .4 7 .4-7.2 .4 2.1 .4-2.5 .4 4.2 .4-.3 .4-3.1 .4 2.4 .4-3.5 .4 .8 .4-1.4 .4 6.6 .4-6.1 .4-2.9 .4 9.6 .4-3.6 .4-4.3 .4 .9 .4 1.7 .4-1.9 .4 3.4 .4-4 .4-3.1 .4 9.5 .4 2.8 .4-1.3 .4-6.1 .4 3 .4-2.6 .4 6.7 .4-5.2 .4 .6 .4 4.8 .4-2.1 .4-3.8 .4-3.8 .4 2.3 .4-3.5 .4 10.6 .4-6.2 .4 3 .4-1.6 .4-3.1 .4 3.5 .4 .3 .4-1.4 .4 .1 .4 1.4 .4-6.6 .4 4.9 .4-.7 .4-.9 .4 3.5 .4-8.1 .4 2.9 .4 4.1 .4 6 .4-3.1 .4-4.4 .4 7.5 .4-4.4 .4-2.7 .4 1.9 .4 5.5 .4-2.3 .4-5.2 .4-1.1 .4 5.6 .4-5.9 .4 2.3 .4 4.1 .4-5.9 .4 .8 .4 3.5 .4-1.7 .4 5.4 .4-4.5 .4 2 .4 1.7 .4-5.9 .4 4.7 .4 1.5 .4-5.2 .4-1.4 .4 .9 .4 5.6 .4-5 .4-1.7 .4-2.6 .4 4 .4-4.4 .4 7.6 .4-5.9 .4-1.6 .4 7.6 .4-2.2 .4 .4 .4-4.7 .4 5.7 .4-1.6 .4-.5 .4 2.4 .4 .6 .4-3.8 .4 5.5 .4-3.5 .4-2 .4 2.4 .4-1.3 .4 4.3 .4-4.3 .4-1.4 .4 .4 .4 2.7 .4-8.1 .4 .8 .4 3.5 .4 2.4 .4 .5 .4-3.3 .4-8.1 .4 1.9 .4 6.5 .4-.9 .4 2.5 .4 2.3 .4-6.2 .4 7.7 .4-6 .4 .9 .4 1.3 .4-6.9 .4 14.6 .4-8.9 .4 4.9 .4-5.9 .4-3 .4 2 .4-.1 .4-2.5 .4-2 .4 11.2 .4-4.7 .4 3 .4 3.9 .4-5.8 .4 2.1 .4 3.5 .4-2 .4-.4 .4-3.9 .4 .2 .4 5.7 .4-3.2 .4 3.8 .4-.6 .4-1.1 .4 .9 .4-1.7 .4 3.1 .4-11.3 .4 4.5 .4 3.4 .4 4.4 .4-11.5 .4 3.7 .4 4.1 .4 1.9 .4-5.9 .4-5.4 .4 8.1 .4 1.6 .4-1 .4 0 .4 .8 .4-4.4 .4 4.7 .4 1.1 .4-2.7 .4-2.7 .4 1 .4 4.5 .4-4.4 .4 6.6 .4-3.1 .4-2 .4 3.7 .4-3 .4 7.2 .4-2.6 .4-7.4 .4 1 .4-5.7 .4 9.2 .4-1.4 .4-1 .4-5.7 .4 9.9 .4-1.2 .4-5.9 .4-.7 .4 .3 .4 4.3 .4-1.6 .4-1.6 .4-.5 .4-3.8 .4 2.5 .4-3.8 .4 9.2 .4-3.6 .4 .2 .4-1.4 .4-1.9 .4-3.6 .4 4.1 .4 1.1 .4 .4 .4 6.2 .4-1.6 .4-6.5 .4 .5 .4 6.4 .4-10.8 .4 6.6 .4 3.6 .4-2.2 .4-2 .4 3.8 .4-4.3 .4-.8 .4 3.6 .4-1.2 .4 2.3 .4 2 .4 .6 .4-12.9 .4 9.2 .4 .7 .4 .9 .4-4 .4-.1 .4 2.3 .4-4 .4-3.1 .4 8.1 .4-.2 .4-9.4 .4 10.7 .4-6.6 .4 4.3 .4-5.6 .4 4.4 .4-4.3 .4 2.7 .4 3 .4 1.1 .4-5.3 .4 8.4 .4-8 .4-2.5 .4 4.4 .4 11.7 .4-12.4 .4-3.1 .4 2.2 .4 3.3 .4 .6 .4-.5 .4 4.2 .4 .8 .4-6.6 .4 .9 .4-1.5 .4 1.1 .4 2.7 .4-3 .4-4.8 .4 6.3 .4 5.5 .4-8 .4 5.6 .4-3 .4-8.6 .4 3.3 .4-2.3 .4 1.9 .4-1.2 .4 3.5 .4 1.4 .4-8.8 .4 9.3 .4-3 .4 3.7 .4-4.2 .4-6.7 .4 7.4 .4 1.7 .4 .3 .4-1.5 .4-3.2 .4 .7 .4 .5 .4-.5 .4 3.9 .4 1.5 .4 1.7 .4-1.1 .4-1.5 .4 2.9 .4-1.8 .4-3.1 .4 6.8 .4-3 .4 .2 .4 4.6 .4-2.1 .4 .6 .4 4.6 .4-2.7 .4-.9 .4-2.5 .4-12.2 .4 3.3 .4 5.2 .4 11.1 .4-8.5 .4-1 .4 3.4 .4 1.9 .4-2.6 .4 .6 .4-.7 .4-2.6 .4-.7 .4-5.9 .4 7.5 .4 0 .4 1 .4 2.3 .4-8.1 .4 .5 .4 6.4 .4-8.1 .4 6.1 .4-.7 .4 1.5 .4-4.8 .4 4.8 .4-6.2 .4 6.6 .4-2.8 .4-1.6 .4 1.9 .4 3.7 .4-8.1 .4 2.8 .4-3.7 .4 7.4 .4-1 .4-5.6 .4 2.1 .4-3 .4 3.8 .4 3.3 .4-5.5 .4 2 .4-5.8 .4 11.5 .4-9.9 .4 4.5 .4-1.7 .4 5 .4-4.4 .4-.6 .4-3.1 .4 8.7 .4-10 .4 11.4 .4-.8 .4 2 .4-9.4 .4 .8 .4 3.4 .4 3.2 .4-7.3 .4 7.9 .4-7.9 .4 6.5 .4-2.1 .4 .7 .4-.7 .4 2.7 .4-8.1 .4 9.7 .4-5.3 .4 1.4 .4-1.7 .4 5.1 .4-.7 .4-2.5 .4-1.8 .4 9.6 .4-6.9 .4 2.7 .4-2.9 .4 4.7 .4 1.1 .4-1.1 .4 2 .4 .2 .4-13.1 .4 5 .4-2 .4 6.3 .4-1.3 .4-5.1 .4 9.6 .4-5.1 .4 5 .4-7.7 .4 5 .4 1.3 .4-5.6 .4 2.3 .4-1.4 .4-2.2 .4 3.1 .4-7.9 .4 8.8 .4-2.2 .4-4.8 .4 6.5 .4-9.3 .4 2.7 .4 10.7 .4-3.7 .4-5.5 .4 7.2 .4-5.9 .4 .6 .4 .9 .4 2.4 .4-.3 .4-7 .4 4.3 .4 3.7 .4 2.1 .4-2.7 .4 2.4 .4 .1 .4-6.2 .4 2.9 .4 8.1 .4-8 .4 3.5 .4-6.9 .4 14.9 .4-13 .4 4.9 .4-.6 .4-7.1 .4 4.6 .4 4.4 .4-6 .4 5.3 .4-4.3 .4 5.2 .4 3.5 .4-11.5 .4 4.8 .4-3.6 .4-.9 .4 3.3 .4 .6 .4 1.9 .4-1.2 .4-9 .4 5.8 .4-5.6 .4 8.3 .4 1.8 .4-1.2 .4-3.5 .4 3 .4 1.4 .4-1 .4-3.8 .4 .5 .4 5.5 .4-4.4 .4 .6 .4-.5 .4 1.8 .4-.1 .4-3 .4-.1 .4 .3 .4 1.5 .4 1.6 .4-6.7 .4 10.1 .4-8.8 .4 4 .4-6.6 .4 4.7 .4 1.5 .4 2.2 .4-.9 .4 2 .4-3.9 .4 6.6 .4-10.8 .4 6.3 .4 .3 .4-2.6 .4 1.5 .4-2.8 .4 4.4 .4-2.7 .4 4 .4-1.2 .4 .2 .4-.9 .4-3.2 .4 5.4 .4 .4 .4-3.8 .4-2.5 .4 1.5 .4 5.8 .4-9.1 .4 6.8 .4-2.4 .4 3.7 .4-7.5 .4 6.4 .4-5 .4 5.2 .4 3.9 .4-6.6 .4 7.1 .4-6.3 .4 2.2 .4 8.4 .4-7.7 .4-1.9 .4-9.7 .4 4.9 .4 3.8 .4-4 .4-1.1 .4 4.6 .4-6.7 .4 .5 .4 5.7 .4 8.5 .4-14.3 .4 2.2 .4 .8 .4-6.1 .4 .2 .4 4.3 .4-6.4 .4 .5 .4 7.8 .4-12.6 .4 16.3 .4-6.2 .4-6.6 .4 5.7 .4-2.7 .4-3.3 .4 1.7 .4 .1 .4 8 .4-8.2 .4 .5 .4 3.6 .4-.2 .4 9.9 .4-8.1 .4-.2 .4 .4 .4 .3 .4-3.6 .4 7.3 .4-2.4 .4 1.8 .4 5.4 .4 1.8 .4-2.8 .4-5.7 .4 2.9 .4-1.3 .4 .8 .4 .6 .4-1.3 .4 5.5 .4-7.9 .4 9.2 .4-3.1 .4-1.8 .4 2.1 .4-2.6 .4 .2 .4 4.7 .4-4.2 .4 13.1 .4-15.9 .4-.3 .4 9.1 .4-5.9 .4-.4 .4-1.4 .4 2.8 .4-1.8 .4 5.2 .4-4.7 .4 2.1 .4 2.2 .4-1.5 .4-2.5 .4-1.9 .4-1.6 .4-.2 .4 7.8 .4-4.5 .4 .6 .4 2.1 .4 .5 .4 2.5 .4-2 .4-2.3 .4-6.3 .4 8.7 .4-1.8 .4 .2 .4-2.8 .4 4 .4 1.9 .4-3.4 .4 2.8 .4-2.1 .4-1.3 .4 8 .4-7.9 .4 1.8 .4-6.1 .4 8 .4-4.4 .4 .8 .4-1"/>
<path d="M338.5 898.5l.4 1.8 .4-11.9 .4 19 .4-11.5 .4 3.9 .4 5.2 .4-5.6 .4 1.1 .4 1 .4 5.6 .4 6.5 .4-7.5 .4-3.6 .4 6.1 .4-3.6 .4 2.4 .4 4.4 .4-6.5 .4 2.8 .4-3 .4 2.7 .4 1.6 .4-4.2 .4 2.4 .4 .4 .4-1.3 .4-1.8 .4-.7 .4 4.6 .4-.3 .4 8.9 .4-16.1 .4 9.1 .4 1.1 .4 3.8 .4-2.7 .4-4.4 .4 3.4 .4 2.2 .4-2.7 .4 4 .4-9 .4 12.9 .4-.7 .4-6 .4 3.6 .4-1.7 .4-2.9 .4 3.4 .4 3.4 .4-4.7 .4-.7 .4 2 .4 1.9 .4 3 .4-6.6 .4 4 .4-1 .4-7.2 .4 5 .4 1.1 .4 .4 .4 1.3 .4-11.1 .4 10.4 .4-2.3 .4-2.5 .4 7.1 .4 1 .4-4.6 .4 5.6 .4-4 .4 1.9 .4-3.8 .4 9.7 .4-14.6 .4 9.2 .4 2.9 .4-9.4 .4 6.6 .4 .5 .4 3.2 .4 1.5 .4-5.8 .4-3.5 .4 9.5 .4-.6 .4-5.9 .4 2.7 .4 .1 .4 .6 .4-1.4 .4 4.2 .4-11 .4 9.7 .4-2.3 .4-2 .4 4.9 .4-12.3 .4 12.3 .4-1.7 .4-6.2 .4 5.5 .4-2.6 .4 10.2 .4-2.6 .4-4.9 .4-4 .4 .5 .4 1 .4-.8 .4-1.1 .4 1.2 .4 1.2 .4-.7 .4-.5 .4-.7 .4 12.4 .4-13.9 .4 1.7 .4 5.3 .4-2.5 .4 2.8 .4 1.5 .4 5 .4-4.7 .4-5.9 .4 7.6 .4-9.8 .4 6 .4-1.1 .4-4.3 .4 8.6 .4-2.6 .4 4.4 .4-8.6 .4 8.3 .4-1.2 .4-1.2 .4-5.3 .4 4.1 .4-8.3 .4 1.9 .4 18.8 .4-8.1 .4 2.9 .4-7.8 .4 4 .4 1.8 .4-2 .4-2 .4-.8 .4-6.3 .4 9.4 .4-.6 .4 2.5 .4-4.8 .4 7.1 .4-7.7 .4-2.8 .4 7.6 .4-5 .4-2.9 .4 4.7 .4 2.1 .4-1.9 .4 .7 .4 11 .4-10.1 .4 2.4 .4-12.4 .4 8.2 .4 1.4 .4-3.9 .4-1.8 .4 4.6 .4-2.3 .4-.9 .4 6.3 .4 .9 .4-3.4 .4-2.3 .4 4.9 .4 .1 .4-.4 .4-7 .4 4.2 .4 2.7 .4 1.2 .4 1.4 .4-.4 .4-6.4 .4 1.7 .4-1.6 .4 10.7 .4-5.6 .4 1.4 .4 1.7 .4-4.8 .4-3 .4 2.5 .4 .8 .4 5.6 .4-2.4 .4-7.1 .4 5.9 .4 .1 .4-6.6 .4 3.2 .4-6.3 .4 7.4 .4-2.4 .4-3.8 .4 2.2 .4 3.1 .4-2.8 .4 2.9 .4 .8 .4-4.9 .4 1.8 .4 8.6 .4-7.2 .4-3.4 .4 3.2 .4-4.9 .4 8.6 .4-2.6 .4 2.5 .4-.6 .4-1.8 .4 2.1 .4-2.7 .4-2.9 .4-1.2 .4 2.1 .4-7.1 .4 15.3 .4-12.3 .4 5.9 .4-4.1 .4-2.3 .4 6.9 .4-.5 .4 .7 .4 2.6 .4-3.9 .4 3.7 .4 .6 .4-2.8 .4 .4 .4 4.3 .4-2.9 .4 .5 .4-8.8 .4 8.5 .4 1.2 .4-1.8 .4 1.7 .4 5.4 .4-6.3 .4 2 .4-5.4 .4 0 .4 1.3 .4-2 .4 3.5 .4-3.2 .4 2.6 .4-4.5 .4-.8 .4 3.3 .4-1.4 .4 1.4 .4 0 .4 .8 .4 4.8 .4 1.1 .4-2.4 .4-3.9 .4 6.5 .4-10.7 .4-1.7 .4 8 .4-1 .4-.4 .4 .7 .4-5.8 .4 1.8 .4 11.6 .4-3.6 .4-5.9 .4 9.4 .4-10.3 .4 1.9 .4 3.3 .4-5.1 .4 2.7 .4 1.3 .4-.7 .4 4.6 .4-.8 .4-5.8 .4 0 .4 4.8 .4-.7 .4-2.4 .4 4.3 .4 1.6 .4-5 .4 5.1 .4-8.4 .4 .1 .4 7.4 .4-6.7 .4 1.5 .4 2.5 .4-1.5 .4 3.4 .4-6.4 .4 3.6 .4 11 .4-9.7 .4-7.3 .4 10 .4-1.8 .4 6 .4-7.9 .4-4.6 .4 8.6 .4-2.6 .4-9 .4 8.8 .4-3.5 .4 4.6 .4-5.2 .4 4 .4-2 .4 1.4 .4-2.1 .4-1.2 .4 1.8 .4 2.1 .4-.6 .4 4.4 .4-4 .4 1 .4 5.3 .4-6.9 .4 1.8 .4-3.8 .4 2.5 .4 5.7 .4-4.5 .4 4.1 .4-8.6 .4-1.1 .4 6 .4-5.8 .4 14.2 .4-4.9 .4-8.7 .4 3.8 .4-1.4 .4 3.5 .4-1.7 .4 3.5 .4 1.8 .4-5.9 .4-6.3 .4 8.9 .4-2.7 .4 4.5 .4-4.7 .4 3.3 .4-1.8 .4-2 .4-1.1 .4 3.9 .4 6.3 .4-6.1 .4-3.6 .4 2.8 .4-2.2 .4-5 .4 5.4 .4 4.2 .4-6.6 .4-3 .4 5.6 .4 9.1 .4-7.7 .4 2.7 .4 2 .4-2.4 .4-3.1 .4-3.2 .4 1.3 .4-.9 .4 3.7 .4-5.9 .4 8.7 .4-4.7 .4-1.7 .4 4.5 .4-9.9 .4 4.6 .4 .8 .4 5.4 .4-4.4 .4 6.9 .4-7.5 .4 4.6 .4-4.2 .4 6.7 .4-4.9 .4 2.8 .4-3.4 .4-2 .4 3.1 .4 4.7 .4-7.3 .4-1.7 .4 4.3 .4 3.9 .4-6.3 .4 1.8 .4 2.7 .4-1.8 .4 2.2 .4 3.2 .4-4 .4-.3 .4 2.9 .4-3 .4-3.1 .4-2.8 .4 2 .4 10.5 .4-6.9 .4 2 .4 .4 .4-6 .4 5.4 .4-4.3 .4-5.5 .4 6.5 .4-3.1 .4 2.5 .4 2.3 .4 6.8 .4-9.8 .4 1.2 .4 1.9 .4-.6 .4-1.2 .4-3.2 .4 .5 .4 2.8 .4-3.4 .4 1.9 .4-2 .4 8.3 .4-9.1 .4 12 .4-8.6 .4-1.6 .4-.4 .4 7 .4 .9 .4-6.5 .4 4.1 .4-1.6 .4-.3 .4 1.4 .4 2.1 .4-9.4 .4-1.1 .4 8.5 .4-1 .4 2.6 .4-8.4 .4 2.5 .4 12.6 .4-13.8 .4 5.9 .4-4.1 .4 1.4 .4-3.5 .4 9 .4-10.8 .4 2.4 .4 .9 .4 7.3 .4-3.2 .4 1.3 .4-2.5 .4 .7 .4 .8 .4 3.6 .4-4.7 .4-6.1 .4 9 .4-3.7 .4-4.3 .4 3.2 .4-2.9 .4 10.8 .4-9.4 .4-4.8 .4 8.1 .4-3.8 .4 7.6 .4-3.8 .4-6.5 .4 4.7 .4-1.8 .4 1.4 .4 .7 .4-4.5 .4 7.9 .4-3.5 .4 .1 .4 5.9 .4 4.2 .4-8.7 .4 8.6 .4-13.5 .4 10.5 .4-5.4 .4 1.8 .4-3.2 .4 1.3 .4 .9 .4-.2 .4 2.6 .4 10.6 .4-14.4 .4 1.7 .4-5.7 .4-2.7 .4 13.6 .4-9.5 .4 2 .4 2.7 .4 3 .4-2 .4 5.4 .4-7.2 .4-5.7 .4 6.9 .4 0 .4-3.3 .4 1.8 .4-.8 .4 8.2 .4-8.1 .4-2.6 .4 6 .4-7.2 .4 7.9 .4 .1 .4-4.3 .4 1.1 .4-1.6 .4 9.3 .4-4.2 .4-5.5 .4-.1 .4 4.1 .4 .3 .4-2.6 .4 3.8 .4-1.6 .4 4.5 .4-2.1 .4-1.8 .4 .9 .4-3.5 .4 6.3 .4-1.7 .4-2.8 .4 1.9 .4-3.6 .4 11.9 .4-10.3 .4 3.3 .4-.6 .4-4.1 .4 2.7 .4-1.2 .4 2 .4-.1 .4 1.8 .4 1.9 .4-7.1 .4-.8 .4 1.1 .4-1 .4-3.1 .4 8.1 .4-2.4 .4-.5 .4-5.2 .4 .5 .4-3.7 .4 8.1 .4 2.8 .4-.4 .4-2.5 .4-6.3 .4 6.3 .4-.1 .4 2.3 .4 .1 .4-3.7 .4 .7 .4 2.5 .4-.9 .4-2.2 .4-7 .4 5.2 .4 5.3 .4-2.4 .4 2.8 .4-4.5 .4 1.6 .4 2.5 .4 1.4 .4-2.6 .4 2.5 .4 .9 .4 .3 .4-10.5 .4 4.2 .4 .6 .4-.1 .4-4.4 .4 10.3 .4-8 .4 3.8 .4-8.7 .4 6.5 .4 .8 .4-2.4 .4 7.5 .4 3.9 .4-11.5 .4 0 .4 9 .4-4.3 .4-3.1 .4-3.5 .4 7 .4-2 .4 4.5 .4-8.6 .4 1.6 .4-.5 .4-.5 .4 3.1 .4-2.4 .4-7 .4-.7 .4-3.2 .4 .6 .4-5.9 .4-4.7 .4 1.7 .4 1.6 .4 4.9 .4 3.9 .4 3 .4 0 .4-.4 .4 5.8 .4-1 .4-.3 .4 4 .4 .9 .4 1.9 .4-6 .4-2.6 .4 7.6 .4-5.1 .4 6.7 .4-7.3 .4 1.7 .4-4.3 .4 13.4 .4-8.8 .4 1.3 .4-1.6 .4 1.1 .4 3.7 .4-2.4 .4-.3 .4 4.3 .4-8.7 .4 8.8 .4 1.8 .4-10.3 .4 6 .4-5.3 .4-2.8 .4 4.5 .4 4.8 .4 .8 .4-4 .4-4 .4 3.6 .4-1.2 .4 .2 .4-6.4 .4 7.4 .4 .2 .4 7.9 .4-5.5 .4-3 .4 .6 .4 1.6 .4-4.5 .4-4.8 .4 4.7 .4 1.7 .4 1.5 .4-3.1 .4-.7 .4 2.4 .4 1.2 .4 1.9 .4-2.7 .4 2.4 .4-4.9 .4 6.4 .4-3 .4-4.5 .4 3.9 .4 1.3 .4-4.1 .4 6.3 .4-3.8 .4 2.7 .4-5.1 .4 4.4 .4 1.2 .4-4.5 .4 .2 .4-2.6 .4 1.2 .4-3.6 .4-1.2 .4-4 .4-4.3 .4 1.5 .4 4.5 .4 7 .4 8.6 .4-2.9 .4-4 .4-4.3 .4 10.5 .4-2.7 .4-4.1 .4 7.5 .4-3.1 .4-1.4 .4-10.1 .4 17.3 .4-5.5 .4-1.2 .4-2.5 .4 2 .4 5.6 .4-2.6 .4 5.1 .4-3.3 .4-2.6 .4 1.9 .4-2.6 .4-5.7 .4 2.9 .4 3.3 .4-4.5 .4 1.5 .4-2.6 .4 10.3 .4-10.5 .4 1 .4 .5 .4 6.6 .4 .6 .4-7.3 .4 5.4 .4-7.3 .4 5.4 .4 9.2 .4-5.8 .4-3.4 .4-4.5 .4 3.6 .4-3.6 .4-3 .4 9.7 .4 1.3 .4-2.9 .4 2.7 .4-9.5 .4 10.6 .4-11.5 .4 7.6 .4 1.2 .4 .9 .4 3.1 .4-5.9 .4-2.7 .4-2.7 .4 4.7 .4-3.9 .4-1.9 .4 4.1 .4 4.7 .4-5.1 .4-2.5 .4 4.3 .4-4.7 .4-.9 .4 10.6 .4-4.1 .4 6.2 .4-12 .4 8.9 .4-4.2 .4 10.1 .4-10.6 .4-.2 .4 3.2 .4-.8 .4-2.1 .4 4.9 .4-.7 .4 .8 .4-1.5 .4-3.7 .4 .2 .4 4.7 .4-5.2 .4 9.4 .4-5.6 .4-2.7 .4 6.6 .4-3.5 .4 4.4 .4-3.2 .4 5.6 .4-7.3 .4-6.1 .4 2.5 .4-.2 .4 7.9 .4 4.4 .4-6.8 .4-7.2 .4 10.5 .4-.7 .4-2.9 .4 2.8 .4-1.3 .4-4 .4 6.4 .4-4.1 .4-1.6 .4 2.5 .4 6.3 .4 1.3 .4-1.9 .4-7.9 .4-.8 .4 4.7 .4-1.9 .4 .9 .4-4.5 .4 .7 .4-.8 .4 6.4 .4 .9 .4-6.2 .4 4.3 .4 .1 .4-5 .4 2.4 .4 2.5 .4-6.8 .4 6.9 .4-6.5 .4-1.4 .4-4.1 .4-7.3 .4 3.2 .4-1.7 .4 .4 .4 3.6 .4 5.3 .4 .4 .4 .9 .4 3.3 .4 3 .4-2 .4-2.6 .4 5.9 .4-3.7 .4 3.3 .4-2.4 .4-2.6 .4-.9 .4 1.5 .4 2.5 .4-6.9 .4 9.3 .4 2.6 .4-4.6 .4-3 .4-1.9 .4 6.6 .4 .6 .4-1.3 .4 2.2 .4-4.9 .4 1.4 .4 1.8 .4-1.9 .4 2.5 .4 0 .4-2.7 .4-2.4 .4 .8 .4 6.4 .4-7.9 .4 4.5 .4-3.6 .4 11.7 .4-10.2 .4 4.5 .4-5.5 .4 14.7 .4-15.7 .4 5.9 .4-5.5 .4 7.3 .4-7.3 .4 2.9 .4-4.1 .4 4.2 .4 1.4 .4 6 .4-14.1 .4 9.9 .4-1.8 .4-2.2 .4 1.4 .4 2.1 .4-1.4 .4 0 .4-2.5 .4 1.5 .4 3.2 .4-4.9 .4 1.6 .4 2.2 .4 1 .4 .3 .4-1.9 .4-6.2 .4 9.9 .4 1.1 .4 .9 .4-2.8 .4 2 .4-3.8 .4-2.6 .4 3.5 .4-.6 .4 5.2 .4-.5 .4-4.4 .4 .5 .4 1.5 .4 .6 .4 4.8 .4-6.5 .4 6.3 .4-9.3 .4 2.6 .4 8.3 .4-4.4 .4-1 .4 1.7 .4-3.1 .4 .6 .4 .2 .4-.4 .4 0 .4-3.6 .4 2.8 .4-4.1 .4 4.1 .4-3 .4 1 .4-.2 .4-3.9 .4 .4 .4 1 .4 1.8 .4 1.4 .4-3.9 .4-2.3 .4 2.9 .4-1.3 .4 2.5 .4 1.2 .4 2.2 .4-12.8 .4 3.6 .4 .9 .4 2.6 .4-.7 .4-2.4 .4 2 .4-4.9 .4 .2 .4 1.7 .4-5.2 .4 8.4 .4-8.7 .4-1.8 .4 4.2 .4-8.2 .4 4.3 .4 .3 .4 4.2 .4 5.3 .4-10 .4-5.1 .4 4.9 .4 1.3 .4-5.1 .4 4.5 .4 4.5 .4-3.1 .4-5.5 .4 3.2 .4-2.9 .4 4.7 .4 .2 .4 7.3 .4-9.3 .4 .5 .4 6.5 .4 1.8 .4-3.5 .4 2.9 .4 1.9 .4 .5 .4-1.1 .4 .7 .4-7.1 .4 8.2 .4-1.9 .4-3.6 .4 1.6 .4 .4 .4-2.2 .4 2.7 .4-.8 .4-3.6 .4 12.4 .4-6.1 .4 6.3 .4-8.7 .4 6.5 .4-6.1 .4 5.8 .4-2.3 .4-.7 .4-3.4 .4 1.3 .4 3.8 .4-11.6 .4 4.4 .4-2 .4-1.1 .4 7.5 .4 .8 .4-3.6 .4 4.7 .4-6.5 .4 .6 .4 2.6 .4 1.1 .4-1.8 .4-3.1 .4 5.8 .4 4 .4-7.1 .4 1.6 .4-3.8 .4 3.9 .4-3 .4 3.9 .4 5 .4-3.4 .4-4.2 .4 5.4 .4-8.6 .4 10.3 .4-2.3 .4-5.4 .4 2.7 .4-2 .4 14.2 .4-9 .4-5.5 .4 1.1 .4 2.8 .4-2.6 .4 2.6 .4 1.2 .4-7.6 .4 6.7 .4 2.7 .4-6.3 .4-1.5 .4-7.2 .4-3 .4 1.7 .4-2 .4 .5 .4 10.8 .4-3.3 .4 3.7 .4-.1 .4 1.1 .4 .5 .4-.4 .4-3 .4 3.5 .4-5.2 .4 2.9 .4-3.8 .4 1.9 .4-3.9 .4 6.6 .4-4.9 .4-5.8 .4-7.3 .4-3.5 .4-5.7 .4-23.1 .4-19.8 .4-30 .4-25.4 .4-15.7 .4 4.7 .4 16.2 .4 16.3 .4 10.1 .4 .2 .4 6.1 .4 10.3 .4 21.4 .4 23.4 .4 10.4 .4 14.5 .4 1 .4 8.1 .4-4 .4 3 .4 2.4 .4-.9 .4 .5 .4-7.9 .4 9.1 .4-8.6 .4 3.3 .4-6.1 .4 7.4 .4-1.2 .4 .8 .4-1.7 .4 2.9 .4-1.9 .4 1.9 .4 3.6 .4-10.2 .4 7.4 .4-.3 .4-4.7 .4 3.9 .4 6.4 .4-3.6 .4-3.3 .4 4.4 .4-1.4 .4-5.8 .4 1.8 .4 1.9 .4-.4 .4 .3 .4-2.6 .4-1.9 .4-4.4 .4-2 .4-2.3 .4 3.1 .4-.6 .4 .5 .4 6.6 .4 11.2 .4-11.6 .4 5.5 .4-5.9 .4 2.7 .4 2.4 .4 .8 .4 3.6 .4-9 .4 2 .4 4.5 .4-.1 .4-7.3 .4 3.2 .4 3.9 .4 1 .4-7.2 .4 4.9 .4-8.7 .4 11.6 .4 2.9 .4-9.7 .4 3.3 .4-4 .4 3.5 .4 3.6 .4 .2 .4-.6 .4-6.3 .4 1.8 .4 9.3 .4-5.9 .4-2.5 .4 2.1 .4-3.1 .4 2.4 .4-3.5 .4 .1 .4-3.3 .4 11.3 .4-3.7 .4-.5 .4 .7 .4-3.6 .4-3.4 .4 5.4 .4 .4 .4-.7 .4-3.5 .4-4.3 .4 7.3 .4-2.2 .4-2.8 .4-2.2 .4-1.7 .4-4 .4-5.8 .4 .9 .4-5.5 .4-.4 .4-5.2 .4-1 .4-6 .4 4.3 .4 5.5 .4-4.1 .4 5 .4 4.2 .4 1.9 .4 3 .4-2.7 .4 5 .4 10 .4-2.7 .4 1.4 .4 6.9 .4-15.4 .4 13.6 .4-1.1 .4-8.7 .4 4.6 .4 3.7 .4-3.8 .4-.2 .4 4.8 .4-2.7 .4 1.4 .4-1.2 .4 1.1 .4 .7 .4 6.8 .4-6.1 .4-3.7 .4 4 .4-.1 .4 10.8 .4-16.1 .4 7.6 .4-1.3 .4 4.7 .4-8.6 .4-.6 .4 5.6 .4 3.8 .4-2.3 .4-.5 .4-2.6 .4 3.5 .4-3.5 .4-2.8 .4 5.8 .4-9.2 .4-4.3 .4 1.5 .4-2.4 .4-3.8 .4-5.6 .4-3.3 .4-7.8 .4-7.1 .4 1.4 .4-7.6 .4 2.1 .4-1.3 .4 4 .4 7.6 .4-4.2 .4 14.2 .4 2.1 .4 7.2 .4-.2 .4 4.6 .4 1.9 .4-1.4 .4 4.8 .4 7.2 .4-1.2 .4 .9 .4-5.3 .4 .4 .4-.8 .4-10.5 .4 11.3 .4-1.8 .4 5.6 .4 .2 .4-1.8 .4-4.6 .4 1 .4 10.1 .4-6.8 .4 2.4 .4-5 .4 5 .4-4.5 .4-.5 .4 3.4 .4-4.1 .4-1.4 .4 8.8 .4-2.2 .4-4 .4 1.6 .4 4 .4-5.7 .4-6.7 .4 15.9 .4-13.3 .4 2.7 .4-7.1 .4-1.7 .4 6.1 .4-8.2 .4 2.9 .4-5.7 .4-2.6 .4 1.1 .4 .7 .4 4.4 .4-5.4 .4 4.5 .4 10.4 .4 4 .4-1.3 .4 0 .4 6.2 .4-8.8 .4 5.8 .4 10.8 .4-7.4 .4 12 .4-6.4 .4 .8 .4 11.6 .4-8.9 .4-3.9 .4-.6 .4 0 .4-4.7 .4 8.8 .4-.8 .4-2.2 .4 5.8 .4-4.8 .4-3.7 .4 2.6 .4 4 .4 1.6 .4 5.7 .4-7.6 .4 3.5 .4 2 .4-1.2 .4-.8 .4-4.7 .4 2.7 .4 9.1 .4-6.7 .4-.6 .4-3.8 .4 5 .4 9.3 .4-12.1 .4-3.6 .4 5.2 .4-1.7 .4-.7 .4 9.5 .4-5.1 .4-8 .4 4.1 .4 2.2 .4-6 .4 .6 .4-11.1 .4-1.5 .4-10.3 .4-7.9 .4-10.5 .4-8.4 .4 3.9 .4 6.4 .4 8.6 .4 3.7 .4 10.9 .4 7.5 .4 4.4 .4 2.8 .4 3.3 .4 5.4 .4 1.9 .4-1.4 .4-1.9 .4-11.8 .4 8 .4 4.1 .4-5.3 .4 6 .4-7.8 .4-.1 .4-5.9 .4-2.1 .4-8.6 .4 2.8 .4 .9 .4 3.7 .4 2.8 .4 12.5 .4-4.4 .4 7.9 .4-2.6 .4 3.1 .4-1.4 .4-.4 .4-3.7 .4 13.6 .4-3.3 .4-2.4 .4-11.1 .4 3.4 .4 1.8 .4 3.2 .4-3 .4 4.7 .4-1.7 .4 2.6 .4 1.3 .4-6.6 .4 .9 .4-.8 .4 6.2 .4-3 .4-1.1 .4-2.8 .4 5.6 .4-1.7 .4-.4 .4-3.1 .4-6 .4 5.2 .4-8.4 .4-4.1 .4-7.1 .4 3.9 .4-5.6 .4 4.4 .4 3.3 .4 4 .4 10 .4-1.2 .4-.2 .4 3.6 .4-.7 .4-.4 .4-4 .4-.7 .4-10 .4-2 .4 1.2 .4-1.5 .4-7 .4 9.8 .4 3.3 .4 8.4 .4-3 .4 7.9 .4 3.8 .4-9.5 .4 6.9 .4 6.2 .4-3.7 .4 4.1 .4-2.3 .4-5.2 .4 5.3 .4 1.1 .4-3.2 .4 5.6 .4-8 .4 4.4 .4-.8 .4-1.6 .4-2.2 .4-1.9 .4 2.8 .4 3.7 .4-1.4 .4 1.5 .4-.4 .4-.9 .4 2.3 .4 1.9 .4-8.4 .4 5.6 .4-7 .4 12.4 .4-11.4 .4 .9 .4 3.3 .4-2.5 .4 .8 .4 .9 .4-6.1 .4 7.5 .4-8.2 .4 1.9 .4 4.7 .4-9.7 .4 5.2 .4 4.1 .4 4.6 .4-4.3 .4 6.2 .4-5.7 .4 7.6 .4-.2 .4-3.9 .4 1.2 .4 .7 .4-.4 .4-.4 .4 7 .4-3.1 .4 .3 .4-6.7 .4 5.4 .4 4 .4-3.2 .4-2.2 .4 1.6 .4 3.1 .4-3.5 .4-6.8 .4 4.5 .4 3.1 .4-6.1 .4 5.1 .4 2.7 .4 4.9 .4-2.7 .4-3.9 .4-7.5 .4 7 .4-6.1 .4 1.4 .4 7.5 .4-6.6 .4 5.1 .4-1.6 .4 2.6 .4-3.7 .4 .2 .4 6 .4-2.8 .4-1 .4-1.1 .4 2 .4-2.3 .4 2.6 .4-2.4 .4-5.5 .4 0 .4 3.3 .4 8.7 .4-2.6 .4-6.6 .4-2.2 .4 0 .4-.8 .4 3.8 .4-7.4 .4-8 .4 4.7 .4-4 .4 9.3 .4-9.5 .4-.6 .4-1.7 .4-6.2 .4 6.9 .4 .6 .4-1.9 .4 3.5 .4-1.5 .4 3.1 .4 4.5 .4-2.2 .4 4.6 .4 .2 .4 1.1 .4-.4 .4 .4 .4 3.3 .4 4.9 .4-2.1 .4 3.4 .4-3.6 .4-5.1 .4 12.6 .4-6.9 .4 4.2 .4 .8 .4-1.5 .4-1.3 .4-11.8 .4 12.9 .4-2.3 .4 .9 .4-.6 .4-3.5 .4-1 .4-9.5 .4 2.3 .4-1.5 .4-3.1 .4-6.9 .4-3.9 .4 4.1 .4 3.9 .4 3.5 .4 7.6 .4 2.1 .4-5.1 .4 8.8 .4-1.5 .4 5.7 .4-3.9 .4 7.5 .4-5.8 .4 1 .4-1.7 .4 6.2 .4-2.4 .4 1.4 .4 1.2 .4-5.4 .4 8.8 .4-3 .4-1.8 .4-.7 .4-.8 .4-2.1 .4 6.5 .4-2 .4-1.1 .4-1.7 .4 2.6 .4 6.6 .4-5.4 .4-8.4 .4-1.1 .4 10.6 .4-7.3 .4 5.8 .4 1.1 .4 .3 .4 4.4 .4-8.4 .4 2.1 .4-4.4 .4-1.1 .4 1.7 .4 7.7 .4 0 .4-8 .4 5.6 .4-3.5 .4 3.8 .4-6.2 .4 4.2 .4-.5 .4-3.5 .4 1.2 .4 .3 .4 1.9 .4 5.9 .4-.1 .4 .2 .4-3.4 .4 1.4 .4-6.7 .4 3.7 .4 3.8 .4-2.6 .4-3.5 .4 4 .4-.9 .4-.1 .4-3.8 .4 5.5 .4-2.9 .4-2.2 .4 2.7 .4 2 .4 2.7 .4-.7 .4-10.2 .4 9.9 .4-1.6 .4-.3 .4 3.2 .4 1.1 .4-3.5 .4-2.7 .4-1.4 .4 2.7 .4 .7 .4-3.8 .4 8.5 .4-.7 .4-2.3 .4 3.6 .4-3.6 .4-5.2 .4 4.9 .4 3.8 .4-8.1 .4-3.9 .4 7.4 .4-9.7 .4 2 .4 4.3 .4-3.2 .4 6.8 .4-6.4 .4 1.6 .4 1.2 .4-4.1 .4 1.3 .4-8 .4 13 .4-6.5 .4-1 .4-1 .4 3.8 .4-3.1 .4 3 .4-2.7 .4-2.6 .4 2.5 .4-.1 .4 4.2 .4-.4 .4-2.6 .4 2.9 .4-3.3 .4 2.1 .4-.8 .4 2.5 .4-4.4 .4 2.7 .4 .6 .4-3.4 .4 4.3 .4 0 .4 3.7 .4-6.6 .4-.9 .4-.1 .4 6.8 .4-2.1 .4-1.2 .4 4.6 .4 4.6 .4 1.8 .4-2 .4-6.4 .4 7.4 .4-7.6 .4 4 .4 1.1 .4-7.9 .4 5.4 .4-.4 .4 7 .4-10 .4 4.4 .4-3.6 .4 .6 .4-3.9 .4 6.3 .4 .5 .4-.7 .4-14.7 .4 2.9 .4 5.3 .4 3.1 .4-2.3 .4-4.9 .4-2.9 .4 6.3 .4-2.4 .4-8.1 .4 1.3 .4-.5 .4 7.2 .4-3.6 .4 2.7 .4-5 .4 5.5 .4 .4 .4 2.4 .4 2.3 .4-.3 .4-2.3 .4 8.5 .4-6.6 .4 1.1 .4-3.2 .4 8 .4-.6 .4-2.5 .4-.7 .4 3.7 .4-1.6 .4-2.6 .4 5.1 .4 1.5 .4-2 .4 1.6 .4-2.2 .4 4.4 .4-2.4 .4-4.4 .4 4.9 .4-2.6 .4-3.1 .4-.6 .4 1.4 .4-5.8 .4 4.3 .4 1 .4-3.5 .4 .4 .4 1.8 .4-1.7 .4 5 .4 1.4 .4 .7 .4 5.7 .4-7.2 .4-.9 .4 1.8 .4 4.5 .4 1.3 .4-7.4 .4 3.4 .4-1.9 .4 2.6 .4-16 .4 12.6 .4-5.1 .4-4.4 .4 12.2 .4-4.6 .4 7.6 .4-1.8 .4 1.6 .4 .4 .4-6.6 .4 2.8 .4-6.7 .4 1 .4 5.8 .4 4.4 .4-5.6 .4-7.5 .4 6.3 .4 2.2 .4 1.4 .4-3.1 .4 5.3 .4-2.4 .4-2.5 .4-2.7 .4 12.3 .4-13 .4 .3 .4-2.4 .4 3.8 .4-7.2 .4 7.6 .4-7.9 .4 7.4 .4-7.7 .4-.1 .4 1 .4 2.4 .4-2.3 .4-3.6 .4 1.5 .4 1.2 .4-9 .4 8.4 .4-5.6 .4-9.9 .4 7.4 .4-2.5 .4-2.1 .4-.7 .4-1 .4 4.7 .4-3.4 .4 1.6 .4-1.9 .4 5.6 .4-3.3 .4 3.7 .4-.9 .4 1.6 .4 4.8 .4 1.4 .4-1.2 .4 1.6 .4-1.2 .4 5.2 .4 0 .4 2.4 .4-.9 .4-.7 .4 3.5 .4-3 .4 3.3 .4 1.3 .4 5.3 .4-7.7 .4 .5 .4 2.4 .4-2.5 .4 1.7 .4-1.2 .4-.4 .4-2.1 .4 3.2 .4 1.7 .4-.9 .4-1.5 .4 1.9 .4 4.5 .4-5 .4-1.9 .4 8.2 .4-7.2 .4 7 .4-3 .4-6.4 .4 4.1 .4-.2 .4 .2 .4-.1 .4 3.2 .4-1.1 .4 3.5 .4-5.5 .4 .4 .4 4.6 .4-4.7 .4-1.2 .4 2.5 .4-4.7 .4-.5 .4 2.1 .4 3.3 .4 .8 .4-6.5 .4 1.2 .4 2.6 .4-.8 .4-4.3 .4 4.9 .4-4.8 .4-.5 .4-3 .4 4.3 .4-1.7 .4-5.6 .4 3.2 .4-2 .4-2.1 .4-2.8 .4 2.5 .4-4.4 .4 1.3 .4 1.9 .4 4.1 .4 3.9 .4-8.2 .4 7.3 .4-.5 .4 6.9 .4-6.1 .4 11.4 .4-6.7 .4 7.4 .4-11.1 .4 9.1 .4 4.3 .4-.9 .4-8 .4 .1 .4-1.2 .4 7 .4-6.5 .4 11.5 .4-3.3 .4 2.5 .4-6.5 .4 1.2 .4 1.1 .4-4.7 .4 .3 .4 5.6 .4-1.6 .4 1.4 .4-3.5 .4 6.3 .4 2.8 .4-2.1 .4-3.9 .4 6.7 .4-2 .4-2 .4-4.1 .4-3.7 .4 12.8 .4-5.1 .4-3.6 .4-2.1 .4-6.8 .4 10.1 .4-5.1 .4 .3 .4-1.6 .4 .8 .4 3.3 .4-4.7 .4 3.5 .4 5.2 .4 3 .4-1.9 .4 .8 .4-4.5 .4 1 .4 3.4 .4-.4 .4-.9 .4 .7 .4-5.4 .4 .2 .4 7.8 .4-2 .4-4.6 .4 5.7 .4 11.2 .4-14.3 .4 3.5 .4-1.5 .4-1.8 .4-.6 .4 6.5 .4-5.7 .4-8.5 .4 16.6 .4-8.4 .4 4.8 .4-1.7 .4-2.1 .4 7.1 .4-9.3 .4 4.3 .4 .5 .4-6.7 .4 2.2 .4 5.9 .4 4.3 .4-4.7 .4-10.4 .4 12.2 .4-9.5 .4 2.8 .4 3.2 .4 .9 .4-1 .4-.2 .4 9.3 .4-13.4 .4 6.2 .4 2.6 .4-1.3 .4-8.3 .4 10.5 .4-.4 .4-9.8 .4 2.4 .4 7 .4-4.3 .4-4.4 .4 5.2 .4-4.8 .4-.8 .4-3.8 .4 8.7 .4-4.2 .4-.5 .4 1.7 .4 4.5 .4-3 .4 3.6 .4-3.5 .4 4.4 .4 2 .4-5.9 .4-.2 .4-5.6 .4 3.9 .4 7.8 .4-2 .4-10.3 .4 1.4 .4 .4 .4 1 .4-1.3 .4-1.7 .4 1.5 .4-2.3 .4-1.1 .4 4.1 .4-8.4 .4 7 .4 3.7 .4 3.3 .4 .3 .4 2.6 .4-.3 .4-3.4 .4-.2 .4 1.4 .4-3.8 .4 .1 .4 2.3 .4-4.7 .4 4.4 .4 .2 .4 7.5 .4-13.1 .4 2.1 .4 6.1 .4-6.6 .4 2.9 .4-5.7 .4 8.7 .4-9.6 .4 2.6 .4-1.3 .4 6.9 .4-4.2 .4-6.8 .4 11.9 .4-11.2 .4 6 .4 2.3 .4-5.1 .4-.5 .4-2 .4-.9 .4 14.8 .4-5 .4 .9 .4-10.4 .4 4.4 .4-2.8 .4 7.7 .4 3.9 .4-8.6 .4-.3 .4 7.6 .4-9 .4 6.3 .4-4.3 .4 4.4 .4-4.7 .4-4 .4 5.9 .4-6.3 .4 6.6 .4 4.8 .4-2.5 .4-9.7 .4-1.2 .4-3.7 .4 5.3 .4-1.8 .4 1.8 .4 10.3 .4-5.6 .4-.9 .4-2.9 .4 3 .4 1.4 .4-1.2 .4 2.7 .4 2.7 .4-8 .4-1.3 .4 8.5 .4-9.5 .4 6.4 .4-.1 .4 4.9 .4-8.2 .4-2.5 .4 10.7 .4-8.3 .4-5 .4 3.7 .4 4.6 .4 4.7 .4-2.4 .4-2 .4-4.5 .4 5.3 .4 2 .4-5 .4 3.6 .4 5.3 .4-6.8 .4-.4 .4 0 .4 1.5 .4-3.1 .4 5.2 .4-1.7 .4 .9 .4-4.1 .4 4.3 .4 2.6 .4-6.6 .4-.4 .4 .7 .4-2.2 .4 1.3 .4 5 .4-3.1 .4-2.2 .4-.4 .4-1.7 .4 6 .4-6.6 .4 2 .4-1.8 .4-8.5 .4 2.4 .4 1.7 .4-6.8 .4 5.7 .4 7.2 .4 .6 .4 3.4 .4 3.2 .4-3.6 .4 1.4 .4 .1 .4-8.3 .4 5.1 .4 2.2 .4 4.1 .4-4.8 .4 3.8 .4 .3 .4-6.4 .4-1.5 .4 10.2 .4-6.7 .4 6.5 .4-3.2 .4 2.1 .4-9.1 .4 14.2 .4-17.2 .4 4.9 .4 5.8 .4 2.9 .4-1.5 .4 .6 .4-6.9 .4 5.2 .4 3.4 .4-10.5 .4 1.8 .4 4.7 .4 4.3 .4-2.3 .4-6.2 .4 1.9 .4 .8 .4-3.9 .4 12.7 .4-8.7 .4-.3 .4-3.8 .4 6.8 .4-.8 .4 4.6 .4-1.6 .4-3.8 .4 2.1 .4 4.3 .4-9.8 .4 .7 .4 3.5 .4-5.2 .4 3.3 .4-6 .4 6.1 .4-.9 .4-5 .4-2.9 .4 5.1 .4-1.5 .4-5.4 .4 7.9 .4-6.6 .4 7.3 .4-.9 .4-4.3 .4 1.3 .4-8 .4 4.8 .4 1.8 .4-6.5 .4-.8 .4 10.7 .4-4.2 .4 3.5 .4-1.5 .4-13.3 .4 5.9 .4 3.4 .4 .7 .4 .3 .4-2.9 .4 2 .4-3.3 .4 8 .4-10.3 .4 3.7 .4 5.1 .4-5.2 .4 2.6 .4-3.7 .4 3 .4 1.7 .4-6.7 .4-.5 .4 1.9 .4 7.1 .4-.8 .4 1.1 .4 2.4 .4-6.6 .4-1 .4 2.1 .4 1.3 .4 5.8 .4-6.1 .4 2.9 .4-5.4 .4-3.5 .4 12.1 .4-5.6 .4-2.2 .4 1.7 .4 7.5 .4-9.5 .4 .1 .4-1.1 .4 1.2 .4-5.6 .4 11.5 .4-4.5 .4-3.2 .4 6.9 .4-5.1 .4 6.8 .4-5.4 .4 .9 .4 1.7 .4 1.4 .4-3.8 .4 .5 .4 3.4 .4-6.9 .4-2.8 .4 10.3 .4 1.3 .4 4.1 .4-3.8 .4 5 .4 1.4 .4-3.9 .4-3.5 .4 .9 .4 2.7 .4-3.4 .4 6.3 .4 2.1 .4-4.8 .4 7.9 .4-8.9 .4 3.2 .4 .6 .4-7.7 .4 5.8 .4 4.1 .4 .8 .4 .2 .4-7 .4 3 .4-6.1 .4 8 .4-2.4 .4 3.1 .4-7.7 .4 9.4 .4-4.4 .4-4.9 .4 7.5 .4 5.1 .4-6.5 .4 .1 .4-6.5 .4 5 .4 4.3 .4-1.7 .4-2.1 .4-1.9 .4 13 .4-12.3 .4-3.9 .4 6.6 .4-1.9 .4-.3 .4-1.3 .4-.3 .4-1 .4 10.1 .4-9.6 .4 .3 .4 3.9 .4 1.7 .4-1.2 .4-2.3 .4-1.3 .4 2.6 .4-2 .4 .9 .4 4 .4-3.5 .4 3.2 .4-5.1 .4 .8 .4 1.1 .4 1 .4-5.2 .4 .4 .4 9.7 .4-5.5 .4-2.9 .4-3.8 .4 3.6 .4 5.7 .4 1.2 .4-8.7 .4 4.3 .4 2.3 .4 .4 .4-1.7 .4-.4 .4 1.5 .4-3.2 .4 3.2 .4 1.6 .4-3.7 .4 5.9 .4-1.2 .4-5.3 .4-1.1 .4 3.6 .4 .5 .4 .1 .4-1 .4-1.5 .4 8.2 .4-1.3 .4-5.1 .4 0 .4 .3 .4 1.5 .4-2.7 .4 2.7 .4-10.7 .4 4 .4 .1 .4-3.2 .4 4.2 .4-2 .4 .4 .4-.4 .4 5.7 .4-4.8 .4 5 .4-4.7 .4 3.5 .4-5.2 .4-1.4 .4 7.6 .4-1.6 .4 8.1 .4-5.8 .4-.6 .4-.7 .4-2.6 .4 3.6 .4-3.6 .4 3.2 .4-4 .4 6.4 .4-4 .4-1.1 .4 2.4 .4-4.3 .4-3.5 .4 5.6 .4 3.8 .4-5.7 .4 5.6 .4-.1 .4-.9 .4-8 .4 15.5 .4-4.6 .4-4.6 .4-3.3 .4-1 .4-2 .4 4.3 .4 5 .4-11.5 .4 6.8 .4 3.3 .4 .9 .4-2.5 .4-3.6 .4 9.4 .4-4.7 .4 0 .4 1.5 .4-5.7 .4-1.4 .4 .3 .4 9.2 .4-3.6 .4-6.2 .4 .8 .4 4.4 .4-4.5 .4 4 .4 1.6 .4 .1 .4 2.9 .4 2.4 .4-5.7 .4 .5 .4 4.8 .4-4.3 .4-.7 .4 2.2 .4-2.6 .4-1.1 .4 4 .4-5.5 .4 .7 .4 1.4 .4 2.5 .4-8.8 .4 10 .4-1.6 .4-6.9 .4 6.9 .4-5.2 .4 6.3 .4-4.3 .4 1.5 .4-5.9 .4 4.4 .4-1.1 .4 3.7 .4-4.4 .4 3.7 .4 6.7 .4-8.6 .4 3.9 .4-5.3 .4 4.5 .4-7.1 .4 8.6 .4-6.2 .4-1.1 .4 .1 .4 .6 .4 4.2 .4-1.4 .4 2.5 .4-1.1 .4-4.2 .4 .9 .4 4.9 .4 1.7 .4-1.5 .4-.8 .4-6.7 .4-4.2 .4 14.7 .4-7.9 .4-3.1 .4 2.8 .4 2.8 .4-3.5 .4-2.4 .4 2.2 .4 3.8 .4-.3 .4-10.7 .4 10.4 .4-2.4 .4 3.9 .4-12.2 .4 7.9 .4-1.4 .4 1.2 .4-2.7 .4 2.5 .4-2 .4 5.8 .4 9.1 .4-10.3 .4-1.6 .4 14.1 .4-12.2 .4-.8 .4 4.4 .4-6.6 .4 2.9 .4-4.4 .4 7.2 .4-4.8 .4-.1 .4 .2 .4 5.2 .4-5.7 .4-.1 .4 1.7 .4 1.4 .4-18.1 .4 13.8 .4-.4 .4 0 .4-1.2 .4-3.7 .4 5.6 .4 .9 .4 1.5 .4-.2 .4 .8 .4-6 .4 9.6 .4 2.4 .4 1.3 .4 2 .4-1.2 .4-5.5 .4 3.6 .4-4.1 .4 6 .4-5.7 .4 6.9 .4-9.8 .4 5.5 .4-.3 .4-3.1 .4-.2 .4-1.3 .4 7.9 .4-5.9 .4-2.1 .4 .2 .4 6.7 .4-5.6 .4 13.8 .4-2.8 .4-6.2 .4-2.8 .4 5.6 .4-6.6 .4 6.3 .4-1.9 .4-1.9 .4-2.7 .4 3.5 .4-1.6 .4 1.1 .4-1.6 .4 6.2 .4-11.3 .4 .6 .4 6.9 .4-1.6 .4-5.5 .4 7 .4-2 .4-9.8 .4 19.8 .4-11.4 .4-.6 .4-.4 .4-3.8 .4 2.6 .4 6 .4-7.8 .4 4.7 .4-7.5 .4 7.8 .4-2.4 .4 1.3 .4-.8 .4-.2 .4-.4 .4 5.5 .4 .2 .4-5.2 .4 2.6 .4-4.2 .4-.2 .4 .4 .4 6.9 .4-15.4 .4 8.6 .4 4.5 .4 .4 .4-1.8 .4-3.2 .4 4.7 .4 1.8 .4 .8 .4-2.5 .4-2.5 .4 2.8 .4 2 .4-3.7 .4 .2 .4-5 .4 9.4 .4-4.5 .4-7.7 .4 9.1 .4 3.8 .4-14.2 .4 14.6 .4-6.1 .4 2.5 .4-6.5 .4 5.5 .4-2.1 .4 2 .4-6.1 .4 1.2 .4-2.3 .4 12.5 .4-4.5 .4-4.5 .4 1.8 .4-3.7 .4 2 .4 2.4 .4-7.6 .4-.4 .4 1.6 .4 1.3 .4 7.3 .4-4.5 .4-1.2 .4 4.1 .4-1.3 .4-.9 .4-.4 .4 .4 .4-7.6 .4 11.3 .4-1.4 .4 1.5 .4 .1 .4-2.4 .4 1.7 .4-6.9 .4 9.4 .4-.5 .4-3 .4-2 .4 2.6 .4-7.6 .4 5.4 .4 11.5 .4-10.2 .4-1.6 .4 2.3 .4-2.8 .4-2.2 .4 7 .4-8.2 .4 7.1 .4-2.2 .4 .7 .4 2 .4-2.6 .4 6.9 .4-5.9 .4 7.5 .4-8.5 .4 .2 .4-1.1 .4-5.2 .4 .3 .4 13.9 .4-6.4 .4-2.6 .4 8.2 .4-2.9 .4 1.2 .4-6.1 .4 .2 .4 5.2 .4-8.2 .4-3.1 .4 9.1 .4-1.4 .4-.8 .4-1.8 .4 4.9 .4-7.7 .4 2 .4 3.4 .4-2.7 .4 2.3 .4-4.8 .4 2.2 .4 5.8 .4-4.4 .4 6.9 .4 3.2 .4-11.3 .4 .5 .4 4.3 .4 0 .4-.2 .4 1.4 .4-6.2 .4 9.6 .4-7.2 .4-2.2 .4-.7 .4 8.7 .4 3 .4-6.5 .4-.8 .4-2.9 .4-6.8 .4 5.6 .4-7.1 .4 5.3 .4 12.7 .4-16.2 .4 10.5 .4-10.6 .4-4.4 .4 5.5 .4-1.9 .4 2.4 .4-2.4 .4-7.4 .4 4.9 .4 3.1 .4-2.1 .4 7.7 .4 1.4 .4-7.3 .4 2.8 .4-1.4 .4 7.1 .4 .4 .4-10.6 .4 3 .4 7.4 .4-8.5 .4 6.4 .4 .7 .4-3.5 .4 9 .4-3.1 .4-4.6 .4 4.6 .4-4.7 .4 4 .4 1.1 .4-3.3 .4-6.2 .4-.9 .4 9.2 .4-.7 .4 .9 .4-2.5 .4-11.1 .4 6.4 .4 5 .4 5.4 .4-7.6 .4 9.6 .4-16.3 .4 2 .4 3.7 .4 5 .4-6.7 .4 .2 .4-1.8 .4 5.8 .4 2.1 .4 2.6 .4-8.7 .4 4 .4-3.2 .4 9.7 .4-9.1 .4 6.6 .4-2.1 .4-8.4 .4 9.1 .4 1.6 .4-8.1 .4 7.9 .4-5.2 .4 6 .4-1.2 .4-5.2 .4 4.2 .4-1.4 .4 1.2 .4-4.1 .4 7.2 .4-4 .4 .7 .4-6.3 .4 6.7 .4-2.2 .4-4.6 .4 6.9 .4-1.3 .4 2.9 .4-1.1 .4 3.2 .4-7.8 .4 14.8 .4-5.7 .4-2.7 .4-1.2 .4-5.4 .4 3.6 .4-5.9 .4 4.4 .4 2.1 .4 1.8 .4 4.1 .4-13.8 .4 .3 .4 4.9 .4 .7 .4-3.5 .4 4.8 .4-.3 .4 2.8 .4-5 .4 2.1 .4 10.2 .4-12.9 .4 6.6 .4-2.8 .4-10.3 .4 3.5 .4-2 .4 7 .4-4.9 .4-.3 .4 0 .4 4.9 .4-6.4 .4-1.6 .4 3.9 .4-4.3 .4 1.7 .4 2 .4 .1 .4-1 .4-6 .4-2.8 .4 8.1 .4 6.4 .4-6.4 .4 1.4 .4 4.8 .4-3.6 .4 6.6 .4-.9 .4-10.5 .4 8.3 .4 1.6 .4-2.6 .4 4.3 .4-4.9 .4 3.5 .4-1.6 .4 .2 .4 9.4 .4-5.7 .4-.2 .4 1.3 .4 3.5 .4-7.9 .4 6.3 .4 2.3 .4-5.9 .4 1.7 .4 3.2 .4-6.2 .4 3.2 .4-4.6 .4 7.4 .4-.8 .4-6.4 .4-.7 .4 3.6 .4-2.9 .4-2.2 .4 1.1 .4 3.1 .4-3.1 .4-3.1 .4-.7 .4 7.8 .4-7.6 .4 .8 .4-3.3 .4-.3 .4-2.6 .4 4.8 .4-15.6 .4 14.6 .4-5.6 .4 6.3 .4-.4 .4 7.1 .4-3.4 .4 .4 .4-.9 .4-.9 .4-.2 .4 1.6 .4-2 .4 2.2 .4-.3 .4-.2 .4-.9 .4 4 .4-2 .4 4.2 .4 .4 .4-6.7 .4 5.3 .4-4.9 .4 2.5 .4 4.3 .4-1.9 .4 .1 .4 2.2 .4 2.2 .4 1.1 .4-7.4 .4 5 .4-5.4 .4-7.4 .4 5 .4 5.1 .4 4.4 .4-1.1 .4 .6 .4-.1 .4-10.7 .4 6 .4-1 .4 2.5 .4 4.4 .4 .2 .4 2 .4-6.5 .4-4 .4 6 .4-1.6 .4 5.2 .4-9.3 .4 10.5 .4-1.8 .4-2.3 .4-6.7 .4-.5 .4-2.1 .4 9.4 .4-1.2 .4-5.7 .4 7.9 .4-3.2 .4-1.2 .4-.5 .4 3.9 .4-5.3 .4-.2 .4 6.6 .4-10.4 .4 4.3 .4 1.9 .4 6.4 .4-3.7 .4-5.4 .4 12.3 .4-13.5 .4 3.5 .4-4.1 .4 7.1 .4-2.1 .4-6.3 .4 2.8 .4 1.9 .4 5.1 .4 .2 .4-4.3 .4 5 .4-8.4 .4 .2 .4 1.1 .4-.3 .4 .9 .4 .5 .4 5.2 .4-6.8 .4 3.7 .4 1.9 .4 2.8 .4-1.1 .4-.8 .4-.2 .4-2.5 .4-.5 .4-.3 .4 9.8 .4-13 .4 5 .4-1.9 .4 1.9 .4 5.4 .4-9.5 .4-8.4 .4 6.1 .4 5.6 .4-3.7 .4 2.6 .4-2.7 .4 11.8 .4-13.1 .4 3.1 .4 9.6 .4-6.8 .4-2.7 .4 7.5 .4-9.8 .4 7.4 .4-5.4 .4 2.7 .4 1.1 .4-3.5 .4-1.8 .4 2.8 .4 8.5 .4-11.2 .4 5.8 .4-.8 .4 4.7 .4-10.9 .4 3.3 .4-.7 .4-11.2 .4 9.4 .4 5.8 .4-.7 .4-2.1 .4-5.1 .4 6.7 .4 3.9 .4-6.9 .4 4.9 .4-5.9 .4 3.5 .4-3.4 .4-1.9 .4 1.2 .4 4.5 .4-6.8 .4 12.1 .4-7.5 .4-3 .4 1 .4 .7 .4-4 .4 4.7 .4-.9 .4-2.7 .4 6.8 .4-6.4 .4 .8 .4-2.8 .4 3.9 .4-7 .4 2.4 .4 4.8 .4-.6 .4 4.8 .4-6.5 .4 1.6 .4 .3 .4-.2 .4 .4 .4-1.8 .4 7 .4-4.9 .4 8.7 .4-5.1 .4-4.5 .4 2.7 .4 1.1 .4-.4 .4-2.7 .4 8.5 .4-5 .4 .7 .4-3.7 .4 1.4 .4 4.1 .4 .6 .4-3.1 .4 4.1 .4-2.5 .4-8.7 .4 6.1 .4-2.5 .4 5.9 .4-.9 .4-8.6 .4 8.7 .4-4.1 .4 2.6 .4 2.5 .4 0 .4-2.3 .4 4.6 .4-5.9 .4-.9 .4-8.1 .4-3 .4 6.9 .4 4.2 .4-.7 .4-4.4 .4 .6 .4 1.9 .4-1.3 .4 7.4 .4-3.4 .4-5.7 .4 2.3 .4 2.9 .4-4.6 .4 9 .4 1.8 .4-5.2 .4-3.2 .4 6.4 .4-4.7 .4 .1 .4 2.2 .4 3.5 .4-4.5 .4 8.1 .4-13.9 .4 .2 .4 1.3 .4 2.1 .4 4.1 .4-5.6 .4 4.3 .4-6.4 .4-5 .4 10.5 .4-2.7 .4 1.7 .4 1.4 .4 .8 .4-3.1 .4-.6 .4 .8 .4 .3 .4 3.4 .4-2.1 .4-.6 .4-4.9 .4 1.5 .4 8.5 .4-4.6 .4 2.5 .4 2.5 .4-8.7 .4 5.3 .4-7.4 .4 7.8 .4 2.3 .4 5 .4-8.5 .4-6.2 .4 8.2 .4-1.5 .4 4.7 .4-5.3 .4 2 .4-10.1 .4 7 .4 4.8 .4-2.6 .4-.4 .4-1.1 .4 5.5 .4-6.1 .4 3.3 .4-4.8 .4 6.5 .4-2.2 .4-2.5 .4 7.1 .4-2.5 .4-2.1 .4 1.4 .4-1.5 .4-2.6 .4 3.4 .4 4.6 .4-7.9 .4 1.8 .4 3.9 .4-6.4 .4 2.4 .4 1.5 .4 3.9 .4-5.6 .4-1.4 .4 2.6 .4 5.2 .4-6.7 .4-1.1 .4 4.1 .4-1 .4 2.5 .4-2.5 .4 .9 .4 2.6 .4-7.5 .4 7.6 .4-7.6 .4 3.2 .4 8.7 .4-5.4 .4-6.6 .4 2.2 .4-1 .4 3.3 .4 1.9 .4-4.2 .4-11 .4 11 .4 1.6 .4-4.8 .4 5.2 .4-7.6 .4 6.5 .4-11.8 .4 3.4 .4 2.1 .4 3 .4 1.2 .4 1.4 .4 1.8 .4-7.5 .4 0 .4 4.7 .4-.3 .4 1.9 .4-6.1 .4 3.1 .4-1.4 .4 7.1 .4-2.2 .4 1.9 .4-.1 .4 3.9 .4-9.8 .4-.7 .4 6.1 .4-.3 .4-1 .4-5.6 .4 4 .4 8.4 .4-9.1 .4 8.4 .4-3.9 .4 6.2 .4-8.1 .4 3.1 .4-3.7 .4-5"/>
<path d="M338.5 1446.3l.4-7.8 .4 .4 .4-1.8 .4 6.9 .4-15.2 .4 18.4 .4-8.6 .4 3.8 .4-1.9 .4 6 .4-12.3 .4 5.3 .4 .6 .4 5.3 .4-7.8 .4 3.3 .4-2.5 .4 3.3 .4 1.9 .4-5.8 .4 7.9 .4 1.4 .4-3.5 .4 1.5 .4-5.5 .4 2.1 .4-2.8 .4 1.8 .4 3.5 .4-4.2 .4 1.1 .4-1 .4-2.6 .4 2.7 .4 2.3 .4-3.9 .4 4.7 .4 5 .4-3.3 .4-3.3 .4-4.7 .4 2.6 .4 8.5 .4-5.8 .4-2.5 .4 2.9 .4 6.6 .4-7 .4 1.7 .4-1.1 .4-2.3 .4-2.8 .4 2.9 .4 .5 .4 2.9 .4 1 .4 .4 .4-2.1 .4 2.3 .4-5.5 .4 7.2 .4-2.4 .4-2.7 .4 3 .4-1.8 .4 4.4 .4 1.5 .4 2.5 .4-12.4 .4 0 .4 3.4 .4 2.4 .4 2.5 .4-1.9 .4-8.2 .4 6 .4 3.9 .4-2.1 .4 1.8 .4-4 .4 .5 .4 1.3 .4 .7 .4-.8 .4-.3 .4-2.9 .4 3.7 .4-1 .4 3.6 .4 .2 .4-3.5 .4-1.9 .4-.9 .4 3.8 .4-1.1 .4-1.3 .4 1.5 .4-2.1 .4 4.8 .4-3.8 .4 6 .4-2.7 .4 .8 .4-5.7 .4 4.5 .4 2.1 .4-5.8 .4 2.4 .4 1.1 .4-4.9 .4 5.9 .4 3.9 .4-8.1 .4 4.2 .4-5.8 .4 4.4 .4-9.5 .4 13.6 .4-2.5 .4-1.4 .4-2.6 .4 7.3 .4 2.5 .4-13.2 .4 11 .4 1.5 .4-4.4 .4-5.2 .4 7.3 .4-3.5 .4-1.4 .4-2.1 .4 6.3 .4 .9 .4-5 .4 4 .4-5.9 .4 6.8 .4-2.7 .4-.9 .4 .2 .4 3.4 .4-.5 .4-.8 .4-1.4 .4-.2 .4 2 .4-1.3 .4 1.7 .4-3.3 .4-7.2 .4 12.4 .4 4.3 .4-5.8 .4-1.6 .4 .2 .4 .4 .4 .9 .4-3.7 .4 2.4 .4-1.3 .4 4.6 .4-1.6 .4 3 .4-2.2 .4 4.2 .4-2.6 .4 7 .4-14.3 .4 4.4 .4 5.4 .4 5.6 .4-9.8 .4 .9 .4-1.1 .4 5.3 .4-5.8 .4 4.9 .4-5.3 .4-3.4 .4 5.4 .4 .6 .4 2.8 .4-5 .4-1.7 .4 4.1 .4-1.1 .4 .2 .4-1.2 .4 4.3 .4-2.7 .4 5.4 .4-2.7 .4-1.6 .4-8 .4 9.2 .4-2.1 .4 1.3 .4 .8 .4-5.1 .4 4.2 .4-4.9 .4 8.8 .4-11.6 .4-1.5 .4 .4 .4 2.6 .4-.8 .4 10.8 .4-7.9 .4-3.6 .4 8.7 .4-5.9 .4-2.2 .4 7.4 .4 .7 .4-5.1 .4 6.5 .4-4.4 .4 5.3 .4-3.8 .4 3.8 .4-5 .4-4.5 .4 12.9 .4-10.4 .4 1.3 .4-1.6 .4 1.8 .4 1.6 .4-.1 .4 1.6 .4 3.9 .4-6.7 .4-7 .4 3.1 .4 1.6 .4-3.6 .4 8.5 .4-4.9 .4 .4 .4 .8 .4-5.1 .4 1.5 .4 5 .4-.5 .4-4.2 .4 7.3 .4-11.4 .4 2.5 .4-.7 .4-9.9 .4 14.1 .4-7.1 .4-6.7 .4 7.6 .4-6.9 .4-2.6 .4-4.9 .4 1.2 .4-5.1 .4 7.8 .4-2 .4 3.7 .4 5.8 .4-.4 .4 2.4 .4 2.2 .4-1.5 .4 6.8 .4 3.6 .4-1.7 .4 1.2 .4-5.6 .4 .4 .4-1.8 .4 9.5 .4-5.1 .4 5.8 .4-7.5 .4 1.2 .4 1.9 .4 3 .4-3 .4 .5 .4-.6 .4 .5 .4-4.5 .4 4.2 .4-.9 .4 .4 .4 1.9 .4-4 .4 2.1 .4-.7 .4 2.5 .4 1.4 .4-6 .4 5.5 .4 5.2 .4-12.2 .4 2.3 .4-.1 .4 2.2 .4 6.7 .4-5.5 .4-2.5 .4 4.7 .4-4.3 .4 6.1 .4-2.8 .4 3.8 .4-7.1 .4 12.9 .4-7.6 .4-.6 .4-2.4 .4-2.2 .4-.4 .4 2.6 .4-2.2 .4 3.9 .4-3.8 .4 6.7 .4-.2 .4-5.8 .4 6.7 .4-4.9 .4 4.8 .4-2.5 .4 2.4 .4-7.5 .4 3.1 .4 5.3 .4-7.3 .4-5 .4 .2 .4-2.1 .4 1.3 .4 5.9 .4 5.8 .4-6.1 .4 2.7 .4-1.5 .4 .4 .4-1 .4 .4 .4 2.3 .4-5.7 .4 7.7 .4-.2 .4-3.9 .4 3.5 .4-5.2 .4 .5 .4 2.4 .4-1.7 .4-.5 .4-.8 .4 .3 .4 5.2 .4-10.1 .4 7.9 .4-2.1 .4 3.4 .4-.8 .4-11.5 .4 11.8 .4-.8 .4-1 .4-1.6 .4 4.8 .4-4.2 .4 8 .4-4.3 .4 5.7 .4-10 .4-3.2 .4 8.8 .4 .6 .4-2.8 .4-5.4 .4 3.9 .4 3.8 .4-2.8 .4 .2 .4-.2 .4-2.7 .4 1.4 .4-3.2 .4 11.1 .4-7.9 .4 3.3 .4-5.3 .4 6.3 .4-9.3 .4 9.7 .4-3.3 .4 7.5 .4-11.9 .4 4.9 .4 1 .4 3.1 .4-5.7 .4 1.8 .4-7.8 .4 2.5 .4 6.5 .4 2.3 .4-4.9 .4 8.1 .4-1.2 .4-6.4 .4-8.4 .4 2.1 .4 3.4 .4 6.5 .4-2.9 .4-11.6 .4 9.5 .4 6.4 .4-6.9 .4-1.4 .4 9.9 .4-7 .4-1.8 .4 3 .4-1 .4-1.6 .4 5.9 .4-.3 .4-.9 .4-3.2 .4 4.4 .4-4.1 .4 1.9 .4 4.6 .4-3.3 .4 3.5 .4-4.5 .4-7.4 .4 2 .4 8.9 .4-5.8 .4 2.7 .4-4.3 .4 6.6 .4-4.7 .4 6.5 .4-7 .4 5.8 .4 .1 .4-6.7 .4 6.3 .4-7.1 .4 .1 .4 5.2 .4-4.9 .4-.1 .4 .6 .4-2.5 .4 7 .4-1.8 .4-2.6 .4-.3 .4 1.8 .4 4.4 .4-1.1 .4-7.1 .4 4.4 .4-3.3 .4-.3 .4 7.1 .4-8 .4-.3 .4-8.9 .4 5.7 .4 6.5 .4-4 .4 4.2 .4-5.6 .4 1.2 .4 5.1 .4 2.8 .4-3 .4 2.1 .4 1.8 .4-2.4 .4-6.8 .4 2.8 .4 2.5 .4-3.8 .4 3 .4-7.2 .4 2.5 .4 4.7 .4-9.8 .4 3.9 .4 3.7 .4-6 .4 6.2 .4-3 .4 1.8 .4 .2 .4 1.6 .4-2.5 .4 2.3 .4-3.7 .4 5.6 .4 4.1 .4-5.1 .4 .1 .4-4.5 .4 6.6 .4-5 .4 0 .4 4.9 .4-.8 .4 5.6 .4-1.5 .4-6.9 .4 2.3 .4 5.7 .4-2.8 .4-.9 .4 2 .4-6.7 .4 5.9 .4 1.1 .4 .7 .4-8.5 .4 1.9 .4 3.1 .4-3.3 .4-.3 .4 3.8 .4-3.6 .4-9.4 .4 12 .4-2.7 .4-1 .4-2.9 .4 9.1 .4-11.3 .4 1.9 .4 5.1 .4 5.3 .4 3.5 .4-11.9 .4 3.4 .4-4.7 .4 8.8 .4-8.8 .4 4.5 .4 4 .4-4.5 .4 5.7 .4-8.4 .4 4.2 .4 1.5 .4-3.7 .4 5.1 .4-1.7 .4-9.2 .4 17.7 .4-9.9 .4-2 .4-5.4 .4 5.1 .4-1.9 .4 3.9 .4-1 .4 9.8 .4-10.5 .4 1.3 .4-.4 .4-2.2 .4 .3 .4 4.5 .4-1.1 .4-4.9 .4-1.7 .4 3.7 .4 4.2 .4-4.1 .4 6.2 .4-8.8 .4 3.2 .4-12.8 .4 10.2 .4 1 .4 2.9 .4 4.3 .4-5.8 .4 4.9 .4-2.7 .4 1.2 .4-6.2 .4 7.6 .4-8.6 .4 5.5 .4-5.1 .4 1.4 .4-6.9 .4 6.8 .4 3 .4-1.6 .4-4.5 .4 9.7 .4-4.1 .4 2.2 .4-.9 .4-5.2 .4-4.6 .4 3.4 .4 7.3 .4-8.1 .4 6.3 .4-5.1 .4 4.3 .4-8.8 .4 10.1 .4-4.3 .4 3 .4-2.5 .4 1.9 .4-3.3 .4 2.7 .4-7.9 .4 1.2 .4 6 .4-2.9 .4-.9 .4-.1 .4 2 .4-4 .4 3.4 .4-7.3 .4 3.6 .4 4.3 .4-.1 .4-7.5 .4 6.1 .4-6.5 .4 5.6 .4-13.4 .4 6.9 .4 .6 .4 2.2 .4 5.2 .4-1.7 .4 2.2 .4 1.6 .4-7.6 .4 .1 .4 4.5 .4-3.3 .4-.6 .4-4.1 .4 3.7 .4-9.7 .4 6.1 .4-4 .4 2.5 .4-6.5 .4-1 .4 6 .4-7.2 .4 9.9 .4-4.2 .4 8.9 .4 2.7 .4 2.6 .4-5.4 .4 4.7 .4 .4 .4-.8 .4 .9 .4 1.4 .4 1 .4-5.5 .4-.4 .4 13 .4-1.8 .4-11.3 .4 6.5 .4 .7 .4 .5 .4-2.1 .4-3.6 .4 2.6 .4-1.1 .4 2.2 .4-1.5 .4 .5 .4 3.9 .4 .7 .4-8.4 .4 2.5 .4-1.2 .4 7 .4-4.5 .4 5.2 .4-6.7 .4 1.7 .4-4.7 .4 9.2 .4-5.8 .4-3.8 .4 3.1 .4-8.6 .4 10.6 .4 .6 .4 .6 .4 4.3 .4-6.3 .4 3.9 .4-1.8 .4-1.8 .4-6.6 .4 10.4 .4-5.1 .4 1.7 .4-4.7 .4 5.3 .4-.7 .4-.4 .4-.7 .4 4 .4-.4 .4-.9 .4 9 .4-13.6 .4 .8 .4-2.1 .4 5.1 .4-3.8 .4-6.8 .4 5.3 .4 4.6 .4 3.3 .4-8.8 .4 3.2 .4 1.5 .4-2.3 .4 3.7 .4-2.7 .4-.5 .4-5.6 .4 4.3 .4-8.8 .4-.6 .4-10.5 .4-2.3 .4-8.4 .4-4.2 .4-.7 .4 2.9 .4 2.7 .4 9.5 .4-2.9 .4 5 .4 12.9 .4 0 .4-5.7 .4 9.2 .4-.4 .4-8.4 .4 4.3 .4-1.7 .4-1.7 .4-4.7 .4-9.2 .4-4.9 .4-11.2 .4-9.2 .4-5.9 .4 1 .4-5.4 .4 10.8 .4 1.9 .4 9.5 .4 10.1 .4 9 .4-3.9 .4 7.8 .4 5.6 .4-.5 .4 5.2 .4-10.3 .4 6.1 .4-2.5 .4-4.8 .4-1.1 .4-11.6 .4 2 .4-9.4 .4 .7 .4-4.2 .4 3.7 .4 2.6 .4-2.2 .4 8.6 .4 5.3 .4 4.4 .4 2.8 .4 12.1 .4-2.2 .4 6.9 .4-5.3 .4-.4 .4 4.9 .4-1.8 .4 10.5 .4-7.1 .4 3.3 .4-4.7 .4-.3 .4 1.1 .4 1.3 .4 3.8 .4-5.4 .4-1.9 .4-1.3 .4 3.6 .4 2.4 .4-.3 .4-1.5 .4-1.8 .4 2.7 .4 1.7 .4-2 .4 .7 .4-.8 .4 3.9 .4-4.6 .4 2.3 .4 .9 .4 1.4 .4 2.8 .4-2.7 .4 0 .4-7 .4 7.4 .4 6.1 .4-10.6 .4-.5 .4 3.1 .4 4.5 .4-1.5 .4-3.4 .4 1.7 .4 3.9 .4-1.1 .4 6.2 .4-4.9 .4-2.3 .4 .9 .4-3.4 .4-2.2 .4 4 .4 1.1 .4-6.6 .4 3 .4 .6 .4 2.2 .4-1.8 .4 2.6 .4-1.1 .4 3.4 .4-9.5 .4 11.9 .4 2.8 .4-8.1 .4 3.9 .4-1.6 .4-4.7 .4 3.1 .4 2.1 .4-.9 .4 1.8 .4-3.4 .4-.2 .4-3.1 .4 1.3 .4-.4 .4 7.5 .4-4.6 .4-5 .4 4.8 .4-2.6 .4-9.3 .4 12.1 .4-7.1 .4 7.5 .4-5.3 .4-1.7 .4 6.9 .4-6.9 .4 3.8 .4 2.3 .4 1.6 .4 .5 .4-2.6 .4-2.6 .4 9.8 .4-8.7 .4 8.6 .4-7.7 .4 5.8 .4-.2 .4-7.2 .4 5 .4 1.5 .4-.2 .4-3.1 .4 1.8 .4-2.5 .4-2.7 .4 7.4 .4-5.5 .4 6.6 .4-2.9 .4-5.4 .4 2.3 .4-.6 .4-2.2 .4 4.5 .4-3.6 .4 11.2 .4-6.8 .4-6.2 .4 2.8 .4-.8 .4-4.7 .4 8.6 .4 2.3 .4-2.4 .4-6 .4 6.4 .4-4.5 .4 4 .4 3 .4-5.8 .4-5.4 .4 3 .4 4.1 .4 2 .4-8.2 .4 3.2 .4 1.4 .4 .7 .4 1.6 .4-6.5 .4 1.7 .4 4.9 .4-2.2 .4 .1 .4 2.2 .4-3.3 .4 .9 .4-3.1 .4-3.8 .4-.1 .4 4.3 .4-1.4 .4-2.1 .4 2.7 .4-4.9 .4 2.4 .4-1.7 .4-4.6 .4-7.3 .4 7.9 .4-9.8 .4-17.8 .4-6.5 .4-15.3 .4-23.3 .4-23.4 .4-29.2 .4-21.3 .4-16.3 .4-4.1 .4 9.2 .4 20.1 .4 25.7 .4 21.9 .4 22.5 .4 19.5 .4 12.7 .4 10.4 .4 5.7 .4 2.5 .4-7.9 .4-15.9 .4-12.8 .4-29.3 .4-43.6 .4-51.8 .4-55.7 .4-35.1 .4-9.7 .4 24.6 .4 49.4 .4 54.4 .4 51.6 .4 37.7 .4 28.5 .4 13.8 .4 3.1 .4 4.9 .4 11 .4 3.3 .4-4.8 .4 3.5 .4-6.4 .4-1.1 .4 2.9 .4 2.9 .4-.5 .4 1.2 .4-.8 .4 4 .4 2.6 .4-4.7 .4 6.8 .4-9.1 .4 .3 .4 3.1 .4-2.6 .4 5.2 .4-6.3 .4 6.7 .4-4 .4 8 .4-10.5 .4 .8 .4 .9 .4-8.2 .4 8.9 .4-1.1 .4-2.2 .4-6.8 .4-1.7 .4 4.9 .4-.7 .4-1.5 .4-10.6 .4-3.2 .4-.3 .4-6.8 .4 3.2 .4 4.4 .4 3.9 .4-1.5 .4 7.3 .4-.2 .4 3.3 .4 1.8 .4 4.6 .4 .7 .4 2.5 .4-.1 .4 4.4 .4 .1 .4-4.5 .4 4.7 .4-1.8 .4-3.9 .4 8.9 .4 3.8 .4 6.8 .4-6.7 .4-8.4 .4 7.1 .4-.2 .4-10.8 .4 9.9 .4-.8 .4-1.6 .4 .4 .4-.9 .4 5.5 .4-7.1 .4 .7 .4 .6 .4 .9 .4-7.1 .4 11 .4-4.1 .4 1.2 .4-1.2 .4-1.3 .4-.6 .4 1.7 .4 .3 .4 3.6 .4-1.9 .4-2.3 .4 7.5 .4-14.3 .4 3 .4 6.1 .4-1.8 .4-5.3 .4 5.2 .4-1.2 .4 6.5 .4-5.9 .4 5.9 .4-1.9 .4-2.8 .4 1.4 .4 1.5 .4-9.4 .4 9.2 .4-3.3 .4 8.5 .4-8.7 .4 6.4 .4-12.7 .4 11.6 .4-1.9 .4-1.9 .4 .4 .4-.5 .4 2.3 .4-2.3 .4-5.5 .4 5.4 .4 8.1 .4-7.8 .4 .5 .4-2.8 .4 1.8 .4-.4 .4-1.9 .4 3.5 .4-6.7 .4 2.2 .4 1.5 .4-3.6 .4-4.5 .4 3.8 .4-10.8 .4-1.5 .4-9.4 .4-9.3 .4-14.9 .4-15 .4-10.2 .4-4.4 .4-2.6 .4 12.2 .4 12 .4 15.8 .4 15.6 .4 6.5 .4 3.8 .4 4.4 .4 2.7 .4 3.4 .4 3.8 .4-7.1 .4 1.4 .4 .5 .4-2.7 .4 10.7 .4-4.7 .4 6.7 .4-11.5 .4 9.3 .4-7 .4 1 .4-2.2 .4 0 .4-1.4 .4 5.2 .4-5.5 .4 3.6 .4 .7 .4 2.2 .4-2.1 .4 .7 .4 .5 .4-1.9 .4 2 .4-5.6 .4 .5 .4 13.4 .4-11.6 .4-3 .4 6.2 .4-6.5 .4-3.3 .4-4.7 .4 4.7 .4-8.9 .4-1.5 .4 .1 .4-4.9 .4-3.9 .4-2.7 .4 4.8 .4 .8 .4-6.8 .4 5.5 .4 7.1 .4 .8 .4-2 .4 4 .4 2.4 .4 1.5 .4 3.1 .4 4.7 .4-1.6 .4 6.1 .4-2.1 .4-1.4 .4 4.7 .4-1.9 .4-.1 .4 2.7 .4-1.6 .4-2.4 .4 3.5 .4-2.2 .4 8.9 .4-6.4 .4 .1 .4 .3 .4-4.4 .4 4.1 .4-4.8 .4-3.2 .4 .7 .4 3.4 .4-7.6 .4 5.8 .4-3.6 .4 4.7 .4-5.5 .4 12.9 .4-8.4 .4-7.6 .4 10.1 .4-7.4 .4-2.2 .4-1.5 .4 5.1 .4 2.7 .4-7.7 .4-1.8 .4-.8 .4 9 .4 4.5 .4-11.3 .4 2.9 .4-2 .4-.3 .4 3.4 .4-2 .4-.6 .4-2.3 .4 3.5 .4-4.1 .4 .8 .4 .1 .4-5.3 .4 2.5 .4-.6 .4 .7 .4-4.7 .4-1 .4 8.7 .4-2.2 .4-1.5 .4 2.6 .4-5 .4-2.2 .4 3.2 .4-8.9 .4 .2 .4 9 .4-1.9 .4-4 .4 7 .4 1.7 .4 1 .4-3.4 .4-2.2 .4 3.7 .4 1.6 .4-2.2 .4 3.7 .4-.6 .4 .4 .4-8 .4 11 .4 2.5 .4-7.3 .4-3.7 .4 7.4 .4-3.9 .4-1.8 .4 7.5 .4-9.2 .4 7.2 .4-7 .4 9.2 .4-3.4 .4-2.9 .4 1.3 .4 1.4 .4 .8 .4-.1 .4-1 .4-3.6 .4 3.9 .4-6.9 .4 8.1 .4-.4 .4 1.8 .4-6.9 .4 2.8 .4 2.3 .4-1 .4-3.4 .4 2.6 .4-.7 .4 3.3 .4-5.6 .4 3.4 .4 0 .4 1.7 .4-2.8 .4 .8 .4-.6 .4 .5 .4 0 .4-1.1 .4 11 .4-12.8 .4-1.2 .4 1.3 .4 .3 .4 2.4 .4 4.8 .4 .7 .4-5.2 .4-9.8 .4 9.9 .4-6.2 .4 2.6 .4-2.5 .4 5.3 .4-3.9 .4 4.7 .4-1.2 .4-2.7 .4 1.1 .4 2.8 .4-4.5 .4 4.5 .4-3.2 .4 1 .4 2 .4 2 .4-2.7 .4-1.4 .4 2.5 .4-7.8 .4 11.3 .4-10.2 .4 8 .4-5 .4 3.8 .4-2.1 .4 2.3 .4-4.6 .4-4.7 .4 8.9 .4-3.5 .4-.2 .4-.3 .4 9.5 .4-9 .4 3.2 .4-4.7 .4 9.8 .4-6.9 .4-6.7 .4 19 .4-12.9 .4 8.8 .4-1.6 .4 .1 .4-2.7 .4 2.3 .4 3.5 .4-5 .4 2.3 .4 2.8 .4-2.4 .4-1.6 .4 10.6 .4-7 .4-1.2 .4-1.8 .4-.3 .4 7.1 .4 .7 .4-10.4 .4 5.9 .4 6 .4 5.6 .4-.5 .4-3.7 .4 2 .4-6.2 .4 5.1 .4-6.6 .4 2.8 .4 3.5 .4 6.8 .4-4.6 .4-1.3 .4-1.2 .4-3.7 .4 7 .4-3 .4 2.3 .4-3.6 .4 3.9 .4-5.5 .4 7.5 .4 3.2 .4-1.1 .4 4.1 .4-6.3 .4 .6 .4 .1 .4-4.9 .4 10.7 .4-4 .4-4.2 .4-2.2 .4 5.3 .4 3.2 .4-4.4 .4 .3 .4-1.2 .4 .8 .4 4.8 .4 .3 .4-9.9 .4 5.8 .4-4.6 .4-.3 .4 6.8 .4-4.9 .4-7.9 .4 13.3 .4 2.3 .4 2.8 .4-8.4 .4 6.5 .4-18.2 .4 10.3 .4 5.8 .4 .2 .4 3.3 .4-1 .4-3.2 .4 5.9 .4-2.7 .4 3.9 .4-8.5 .4 4.1 .4-2.3 .4 4.6 .4-3.3 .4 .1 .4-3.4 .4 5.9 .4 3 .4-.1 .4-13.8 .4 .9 .4 16.2 .4-7.6 .4-.1 .4 4.3 .4-3.6 .4-3.2 .4 1 .4 6.6 .4-11.9 .4 8 .4-7.8 .4-1.5 .4 6.5 .4-16.3 .4-2.7 .4-12.8 .4-13.9 .4-8.6 .4-8.4 .4-12.2 .4-2.4 .4 .7 .4 5.7 .4 6.5 .4 8.2 .4-1.3 .4 4.3 .4-7.3 .4-2.4 .4-9.9 .4-13.4 .4-6.1 .4-6.6 .4-.6 .4 3.6 .4 11.4 .4 11.4 .4 5.4 .4 9.8 .4 11.9 .4-4.6 .4 1.4 .4 2.7 .4 5 .4-.5 .4 1.1 .4 .2 .4 9.4 .4 .7 .4 3.1 .4-2.3 .4 8.8 .4 .3 .4 4.6 .4 1.3 .4 5.8 .4 3.7 .4-.1 .4-3.2 .4-.5 .4 2.9 .4 0 .4 5.1 .4-4.1 .4-.3 .4-1.2 .4 1.6 .4-2.8 .4-11.3 .4-13.8 .4-12.9 .4-25.1 .4-27.9 .4-22.6 .4-19.7 .4-6.7 .4 15.7 .4 22.6 .4 22.2 .4 24 .4 26.1 .4 16.6 .4 9.8 .4 .1 .4 6.2 .4 6.5 .4-5.8 .4 6.4 .4 1.2 .4 3 .4-11 .4 9.1 .4 6.6 .4-8.8 .4 1 .4 4.1 .4-6.1 .4 5.9 .4-3.1 .4-8.7 .4 2.8 .4-9.1 .4 1.4 .4-16.2 .4-10.5 .4-10 .4-11.3 .4-5.5 .4-9.3 .4 .9 .4 8.3 .4 6.6 .4 12.8 .4 11.4 .4 15.4 .4 11.3 .4 2.2 .4 1.6 .4 3.3 .4 0 .4 7.6 .4-5.3 .4 3.3 .4-5.5 .4 .6 .4-2 .4 5.9 .4 4 .4-1.7 .4 .5 .4-2.8 .4 .6 .4-.4 .4 4.5 .4 6.5 .4-7.5 .4-4.2 .4 9.2 .4-7.8 .4 5.5 .4-3.4 .4 1.9 .4 10.7 .4-13.4 .4 .6 .4 3.4 .4-1.3 .4-1.3 .4-2.6 .4 6.2 .4 1.7 .4-7.1 .4-.7 .4 14 .4-14.9 .4 7.5 .4-1 .4-5.3 .4 6.4 .4-6.6 .4 0 .4-1.3 .4 7.5 .4-4.8 .4 4.8 .4-7 .4 4.2 .4 2 .4-5.8 .4-4.3 .4 1.7 .4 4.5 .4-2.4 .4-4.2 .4-8.6 .4 11.9 .4 3.3 .4 .6 .4-3.2 .4-1.2 .4-1.2 .4 .2 .4-1.5 .4 13.5 .4-6.7 .4 8.7 .4-8 .4-5 .4 12.2 .4-9.2 .4 .6 .4 8.4 .4-.6 .4-12 .4 7.2 .4-6.3 .4 9.8 .4 3.2 .4-8 .4 7.1 .4-8.3 .4 11 .4-10.3 .4 1.4 .4 2.8 .4-5.9 .4 10.4 .4-9 .4 5.9 .4-6.6 .4 4.9 .4-.4 .4-1.3 .4 3 .4-5.6 .4 12.8 .4-8.3 .4-10.6 .4 16.7 .4-5.5 .4 3.7 .4-6.6 .4-7 .4 6.3 .4-3 .4 4 .4-1.7 .4 2.2 .4-7.1 .4 6.2 .4-2 .4 3.6 .4-8.2 .4 4.3 .4 7.1 .4-9.9 .4 6.8 .4 2.3 .4-4.4 .4 3.7 .4 .4 .4 2 .4-7.5 .4 1.9 .4 3.2 .4-5.5 .4 2.7 .4-3 .4-6 .4 8.4 .4 3.9 .4-7.6 .4 .8 .4-2.5 .4-1.5 .4 2.5 .4 2.9 .4 3.9 .4-3.9 .4-4.9 .4-.4 .4 10.2 .4-1.9 .4-3.1 .4 1.3 .4 2.2 .4 8.1 .4-3.1 .4-3.6 .4 8.7 .4-1 .4-1.3 .4 3.8 .4-4.3 .4 6.8 .4-7.7 .4 2.4 .4-1.2 .4 3.8 .4-1.1 .4 1.6 .4 1.4 .4 2 .4-1.3 .4 .4 .4 4.8 .4-6.4 .4-4.1 .4 8.5 .4 3.1 .4-5.7 .4 2.4 .4-6.8 .4 4.6 .4 1.6 .4-.8 .4-3.2 .4 7.6 .4-5.1 .4 2.6 .4-1.9 .4 1.5 .4 .1 .4-4.2 .4 3.4 .4 4.3 .4-1 .4-4.9 .4 2.5 .4-11.1 .4 8.6 .4-6.1 .4-8.1 .4 3.3 .4-3 .4-14.6 .4-3.4 .4-23.9 .4-26.8 .4-10.8 .4-6 .4 7.8 .4 19.2 .4 19.4 .4 13.4 .4 13 .4 10.1 .4 5.9 .4 1.8 .4-6.2 .4 1.9 .4-2.5 .4 6.5 .4-9.3 .4 .8 .4 2.3 .4 3.1 .4-1.8 .4 1.3 .4 .2 .4 .7 .4-4.2 .4 2.4 .4 3.2 .4-1.2 .4 2.5 .4-6.8 .4 4.6 .4 .3 .4-7.7 .4-1.9 .4-3.8 .4-4.6 .4-6 .4-2.5 .4-7.4 .4-1.9 .4-1.7 .4-1.1 .4 8.8 .4 4.3 .4 5.3 .4 5.4 .4 8 .4 1.4 .4 14.7 .4 0 .4-4.4 .4 4.5 .4 2.3 .4-4.2 .4 7.2 .4-3.1 .4-3.5 .4-6 .4 2.7 .4 4.3 .4-2.8 .4 1.4 .4-2.8 .4 3.5 .4-2.4 .4-3.8 .4 4.2 .4-.7 .4-3.3 .4 10.5 .4-5 .4-.7 .4 4 .4-2.7 .4 3.1 .4-7.6 .4 1.7 .4 5.7 .4 3.5 .4-5 .4 .8 .4-3.6 .4 2.9 .4-2.3 .4 1.9 .4 3.1 .4-9.5 .4 7.7 .4-3.6 .4 .5 .4 6.1 .4-3.1 .4 2.1 .4-9.6 .4 4.6 .4-.3 .4-.7 .4 3.4 .4 1.4 .4-7.3 .4 .2 .4-1.3 .4 10.9 .4-8.8 .4 1.2 .4-.9 .4-4.7 .4 6.9 .4 .9 .4 1 .4-4.1 .4-.2 .4-1 .4 7.3 .4-1.6 .4-3.6 .4 2.5 .4-5.8 .4 10.5 .4-9.4 .4 .4 .4-.3 .4 6.6 .4-5.8 .4 2.7 .4-4.2 .4-3.7 .4 7 .4-4.2 .4-1.8 .4 3.8 .4 4.2 .4 4.4 .4-10.5 .4-2.6 .4 11 .4-2.2 .4-3 .4 3.3 .4 .9 .4 4 .4-7.3 .4 4.7 .4-6.2 .4-.4 .4 3 .4-5.6 .4-1 .4 7.5 .4-10.5 .4 6.6 .4-2.2 .4-1.1 .4-4.5 .4-4 .4 2.4 .4-4.5 .4-1.1 .4-2.6 .4-7.3 .4-5.9 .4-.9 .4-7.3 .4-3.5 .4 .7 .4 2.4 .4 7.8 .4 2.6 .4-3.7 .4 4.4 .4 8.7 .4 6.8 .4-.1 .4 10.3 .4-1.1 .4 3.2 .4-5.7 .4-.8 .4 .1 .4 3.8 .4-3.6 .4 2.5 .4 1 .4 4.9 .4-5.9 .4-2 .4 3.5 .4 2.5 .4 1.5 .4-4.9 .4 5.6 .4 2.7 .4-3.1 .4-.2 .4-3 .4-.7 .4-9.9 .4 14 .4-3.5 .4 1.6 .4 2.2 .4-5.9 .4 6.1 .4-3.3 .4 4.7 .4-4.8 .4 .4 .4-2.1 .4 6.1 .4-12.6 .4 5.4 .4 .8 .4-4.2 .4 2.6 .4-4.6 .4 8.4 .4-5.3 .4 6.5 .4-1.9 .4-1.7 .4-2.2 .4 3.4 .4 3.8 .4-1.2 .4 3.1 .4-6.7 .4 10.6 .4-6.2 .4-1.9 .4 7.7 .4 .4 .4-4.9 .4-1.3 .4 5 .4-6.2 .4 6.5 .4-8.1 .4 4.6 .4 .3 .4 4.1 .4-10.7 .4 7.2 .4-1.7 .4 .6 .4-3.3 .4-1.6 .4 2.7 .4 .6 .4 5.9 .4-5 .4-.5 .4 2.3 .4-8.2 .4 8.1 .4 .7 .4-.1 .4-5.1 .4-2.2 .4-1.4 .4 6.9 .4 1.2 .4 2.8 .4 1.1 .4-2.1 .4-2.7 .4 1 .4-1.6 .4 4.7 .4-1.5 .4-1.3 .4-5.1 .4 8.1 .4-9 .4 9.5 .4-.9 .4-9.1 .4 5.3 .4-7.4 .4 6.8 .4 4.1 .4-3.2 .4-7 .4 9.5 .4 .6 .4-.4 .4-3 .4 3.1 .4 2.7 .4-.8 .4 8.6 .4-5.9 .4-1.6 .4 2.9 .4-5.5 .4 5.4 .4 4.2 .4-8.6 .4 4.2 .4 1.7 .4-8.5 .4 11.8 .4-9.3 .4 2.5 .4 2.6 .4-2.1 .4 3.6 .4-2.3 .4 1.5 .4-1.8 .4 4.7 .4-12.3 .4 8.2 .4-3.3 .4-1.7 .4-1.7 .4 2.6 .4 3.7 .4-5.3 .4 2.3 .4 1.3 .4-5.2 .4 7.8 .4 4.4 .4-10.9 .4 5.5 .4-4.4 .4 2.9 .4-2.5 .4 13.6 .4-14.1 .4 3.9 .4-.6 .4-5.8 .4-3.8 .4 9.6 .4 .9 .4-4.8 .4-.4 .4 5.5 .4-.5 .4 .3 .4-2.6 .4-3.8 .4-1.6 .4-3 .4 6.4 .4 6.4 .4-5.4 .4-2.4 .4-5.5 .4 2.2 .4 1.4 .4-1.8 .4 2.4 .4-5.1 .4 1 .4-4.7 .4-2.7 .4 1.9 .4-9.1 .4-1.7 .4-6.1 .4 .7 .4-.5 .4-4.2 .4-2.6 .4-1.4 .4-2.8 .4-.4 .4-1 .4-4.6 .4 7.6 .4 3.5 .4-2.1 .4 6.5 .4 5.9 .4-.5 .4 .7 .4 7.5 .4 7.9 .4-4.7 .4 5.1 .4 .3 .4 3.3 .4 3.7 .4 5.6 .4-6.1 .4 1 .4 .2 .4-.1 .4-1 .4 2.7 .4 2.8 .4 .7 .4 4 .4-8.7 .4 2.2 .4 .2 .4 3.5 .4-1.1 .4 3.5 .4-5.3 .4 6.1 .4 2.6 .4-6.2 .4-1.1 .4 3 .4-3.3 .4 9.8 .4-6.3 .4 2.3 .4-7.2 .4-1.7 .4 8.5 .4-.7 .4-4.5 .4 .5 .4-.5 .4 3 .4 2.3 .4-8.8 .4 6.9 .4-4.9 .4 1.1 .4 1.2 .4-4.2 .4 14.7 .4-1.5 .4-5.8 .4-.3 .4-5.8 .4 12 .4-8 .4-.5 .4 4.8 .4-3.2 .4-3.5 .4 2.1 .4-.4 .4 1.6 .4 1.7 .4 0 .4 2.7 .4-4.6 .4 3.3 .4 2.6 .4-10.3 .4 6.8 .4-6.3 .4-1.5 .4 10.8 .4-1.6 .4-2.1 .4-3.4 .4 7 .4-9.9 .4 5.1 .4 2.8 .4 1.7 .4-9.8 .4-5.3 .4 11.2 .4 1.6 .4-1.2 .4-3.7 .4 3 .4-5.2 .4 6.9 .4 1.7 .4-5.7 .4-9.3 .4 11.5 .4-.2 .4 .5 .4 4.9 .4-4 .4 6.8 .4-5.9 .4-5.1 .4 7.7 .4-4.3 .4-1.4 .4 2.6 .4-.6 .4-5.9 .4 2.4 .4 6.9 .4-3.4 .4 1.5 .4 1.3 .4 2.6 .4-8.5 .4-.3 .4-.9 .4 1 .4-3.5 .4 5.2 .4-.5 .4 2.1 .4-6.4 .4 1.5 .4 3.2 .4 .8 .4-11 .4 5.4 .4 .4 .4-7.2 .4 7.1 .4 .4 .4-17.7 .4 2.1 .4 4.3 .4-3 .4-9.7 .4 .7 .4 7.1 .4 .4 .4 2.7 .4 10.2 .4-1.7 .4-9.6 .4 12.6 .4-4.9 .4 7.9 .4 1.1 .4-1.6 .4 4.1 .4 1.5 .4-4.2 .4-3.7 .4-2.4 .4 4.6 .4-4.3 .4-1.4 .4 3.3 .4-8.9 .4 2.6 .4 9 .4-4 .4-.4 .4-.7 .4-8.7 .4 3.8 .4-4.9 .4-5.1 .4-4.1 .4-12.2 .4 8.5 .4-7.2 .4-1.4 .4 8.7 .4 .4 .4 9.1 .4 6 .4-2.5 .4 9.9 .4-.5 .4 2 .4 1 .4 .9 .4 2.4 .4-.6 .4-1.2 .4-6.1 .4 5.5 .4-2.9 .4-3.1 .4 4.7 .4-3 .4 7.1 .4-4.2 .4 .2 .4 4.3 .4-6.1 .4 .4 .4 4.9 .4-8.9 .4 1.8 .4 2.6 .4 3.2 .4-1.8 .4-4.8 .4 .9 .4 9.3 .4-4.7 .4-3.1 .4 .6 .4 14.2 .4-7.6 .4-10.3 .4 4.2 .4 4.2 .4-3.4 .4 4.9 .4 2.2 .4-6.1 .4 1 .4-1.7 .4 5.8 .4 0 .4-2.1 .4-7 .4 6.4 .4-4.7 .4 8.1 .4-4.4 .4 2 .4-3.8 .4 0 .4 2.7 .4-2.6 .4 5.7 .4-9.5 .4 6.4 .4-4.3 .4 5.1 .4-9.2 .4 10.8 .4-5.4 .4-3.1 .4 6.8 .4-3 .4 1.7 .4 3.4 .4-8 .4 1.2 .4 2.9 .4 1.6 .4-4.5 .4-.4 .4 5.2 .4 .5 .4 1.1 .4-6.2 .4-8.2 .4 10.1 .4 2.1 .4-9.9 .4 4.6 .4 0 .4-.5 .4-4.6 .4 2.1 .4 .9 .4-8.7 .4 7.9 .4-5 .4 2.8 .4-5.6 .4-4.1 .4 8.6 .4 .8 .4-11.7 .4 1.4 .4 4.2 .4-3.7 .4 5.8 .4-4.8 .4 1.2 .4 2.8 .4-7.3 .4 6.6 .4 8.2 .4-4 .4-6.8 .4 9.7 .4 4 .4-2 .4-5.6 .4 .3 .4 1.5 .4-1.8 .4 4.1 .4-3.1 .4 .8 .4 4.4 .4-2.7 .4 1.5 .4 8.4 .4-5.9 .4 3 .4-2.4 .4 .8 .4-6.7 .4 2.9 .4 1.1 .4-.6 .4 .9 .4 1.3 .4-1.3 .4 3.1 .4-3.3 .4 4.7 .4-3.9 .4-2.1 .4-2.4 .4 1.6 .4 1.7 .4 5 .4-8.7 .4 10.5 .4-6.7 .4-2.7 .4-5 .4 9.7 .4-8.7 .4 3.8 .4 1.2 .4 .9 .4 2.6 .4-4.2 .4 2.5 .4-4.6 .4 4.5 .4 1.9 .4-3.2 .4 2.5 .4-.8 .4-1.4 .4 1.1 .4-.4 .4-6 .4 1.9 .4 7.1 .4-8.5 .4 11.6 .4-12.1 .4 8.8 .4 1.8 .4-3.6 .4 6.5 .4-8.6 .4 8.1 .4-2.4 .4-.9 .4 4.2 .4-1.5 .4-8.9 .4 12.3 .4-1.3 .4-3 .4 .3 .4 4.3 .4 1.3 .4-3.4 .4-6 .4 4.6 .4 2.7 .4-5.6 .4-1.2 .4 4.3 .4 .4 .4 .9 .4 3 .4-11.9 .4 8 .4-1.1 .4 .8 .4 .5 .4 2.9 .4-1.6 .4-2.3 .4 .5 .4 .1 .4-.9 .4 5.1 .4-16 .4 6.4 .4 10.5 .4-3.6 .4 .2 .4 1.8 .4-15.7 .4 16.7 .4-9.1 .4 .6 .4 7.1 .4-7.7 .4 5.9 .4 3.1 .4-7.2 .4 .2 .4 4.4 .4 .8 .4-1.9 .4-6.7 .4 11.2 .4-3.5 .4-10.3 .4 5.1 .4-.6 .4 1 .4 3.5 .4-3.6 .4 6.5 .4-.8 .4-4.1 .4-4.6 .4 2.8 .4 .3 .4 1.2 .4-6.9 .4 .3 .4-5.4 .4 .2 .4 3.8 .4 .3 .4-6.8 .4 .2 .4-1 .4-1.5 .4 7.5 .4 1.8 .4 1.9 .4-.6 .4 3 .4-.2 .4 4.5 .4-2.3 .4 4.2 .4-1 .4-1.3 .4-6.3 .4 6.1 .4-.7 .4 5.6 .4-4.2 .4-6.5 .4 1.1 .4 6.1 .4-4.6 .4-3 .4 6 .4 .1 .4-2 .4 3.6 .4-3.2 .4 11.6 .4-14.7 .4 7.1 .4 .5 .4 1.1 .4-4.8 .4-.9 .4 7.6 .4-4.1 .4-4 .4 5 .4 2.6 .4-1.7 .4-6.5 .4 5.8 .4-8.9 .4 8 .4 .6 .4-4.4 .4 1.6 .4-.6 .4-2.5 .4-1.3 .4 1.8 .4-1.4 .4 7.2 .4-10.3 .4 10.6 .4-7.5 .4-2.4 .4 .2 .4-2.4 .4-4.2 .4 8.8 .4-4.2 .4-3.2 .4-2.3 .4 1.9 .4-2.6 .4 8.5 .4-10.1 .4 3.9 .4 1.2 .4 5.7 .4 .4 .4-.2 .4 1 .4 2.8 .4-3.3 .4 5.1 .4-5.8 .4 6.9 .4-3.4 .4 5.9 .4-8.1 .4 2.7 .4-1.3 .4 6.1 .4-8.3 .4 7.9 .4-1.6 .4 .2 .4-4.5 .4 3.9 .4 4.3 .4-8.6 .4 3.2 .4-1.9 .4-3 .4 1 .4 4.7 .4-1.9 .4-8.4 .4 10.6 .4-2.9 .4 4.4 .4-5.3 .4 10.4 .4-11.2 .4 6.1 .4-6.4 .4 4.6 .4-4.7 .4 8.4 .4-4.4 .4 5.2 .4-5.6 .4-5.5 .4 2.6 .4 1.5 .4 6 .4 4.6 .4-10.2 .4 1.4 .4 3.1 .4-8.5 .4 2.7 .4 3.4 .4-1.2 .4-1.6 .4-3.2 .4 4.1 .4 2.2 .4-6.3 .4 5 .4 7.6 .4-5.1 .4 1 .4-5.1 .4 2.2 .4 1.4 .4-1.3 .4-.7 .4-.8 .4 5.3 .4 4 .4-.3 .4 .6 .4 1.2 .4-5.8 .4 1 .4 1.9 .4-1.9 .4 4.4 .4-2.9 .4 6.2 .4-9 .4 7.2 .4 4 .4-10 .4 2.4 .4-.6 .4-.9 .4 4.8 .4 1 .4-4.2 .4 .9 .4 2.8 .4 .4 .4-4.9 .4 12.1 .4-8.8 .4 1.2 .4-2.4 .4 1.4 .4-2.2 .4 8.9 .4-12.1 .4 5.9 .4 2.9 .4-7.9 .4 7.2 .4 3 .4-3.6 .4-1.1 .4-.2 .4-.9 .4 2.9 .4-5.1 .4 4.1 .4-2.4 .4-.9 .4-2.1 .4 6.4 .4-4.5 .4 5.8 .4-3.9 .4 .1 .4-3.9 .4 .3 .4 5.4 .4-2.2 .4 .5 .4 2.1 .4-.5 .4-3.1 .4 11.4 .4 .7 .4-9.3 .4-6.6 .4 1.9 .4 5.2 .4-4.1 .4 1.7 .4-6.7 .4 8.5 .4 2.6 .4-8.5 .4 3 .4-.1 .4-7.5 .4 6.9 .4-.4 .4-3 .4-.4 .4 5.9 .4 .2 .4-.2 .4-3.3 .4-1 .4 3.3 .4-2 .4 4.8 .4 .4 .4-5.8 .4-4.2 .4 6.2 .4-3.1 .4 5 .4-.6 .4-6.3 .4 6.9 .4 .8 .4-4 .4 .2 .4-4.5 .4-1.8 .4 6.3 .4-4.3 .4-2 .4-1 .4 1.9 .4-4.2 .4-1.8 .4-.1 .4-.3 .4-1.5 .4 1.5 .4-2 .4 .2 .4 8.2 .4-5.9 .4 6.1 .4-8.1 .4 6.6 .4-1.6 .4 6.4 .4-6.3 .4 8.4 .4-7.2 .4 2.7 .4-3.3 .4 4.5 .4-.1 .4-2.5 .4-2.1 .4 9.9 .4-1.1 .4-3.7 .4 2.3 .4-1.9 .4 2.3 .4 1.6 .4 .6 .4-2.8 .4 1.2 .4 2.6 .4-4 .4 .5 .4 2.2 .4 1.5 .4-3.2 .4 4.2 .4-3.1 .4-2.2 .4 2.6 .4-5.6 .4-1.5 .4 7.5 .4-7.5 .4 3.2 .4 6.2 .4-2.4 .4-4.3 .4 2.9 .4-5 .4 1 .4 3.3 .4 2.7 .4-2.1 .4-.2 .4-1.9 .4 2.6 .4 2.6 .4 1.1 .4-2.6 .4-.7 .4 .9 .4 .6 .4-3.5 .4 .4 .4-1 .4-1.4 .4 10.3 .4-2 .4-7.1 .4 2.5 .4 .9 .4-1.5 .4-3.1 .4 8.4 .4-9.3 .4 7.2 .4-2.9 .4-3 .4 2.3 .4-5.9 .4 8.2 .4 1 .4-4.3 .4 3.1 .4-9.7 .4 7.1 .4-2.6 .4 8.1 .4-2.4 .4-.6 .4-.3 .4 0 .4 3.8 .4-6.3 .4 7.1 .4-.8 .4 1.3 .4-4.8 .4 5 .4-.3 .4-1.9 .4 2.3 .4-5.5 .4 1.2 .4 5 .4 2.3 .4-12.9 .4 9.1 .4-7.7 .4 5.1 .4-2.7 .4 2.8 .4-1.8 .4 2.5 .4 .9 .4-3.5 .4 3.6 .4-3.4 .4 3.4 .4 1.6 .4-3.6 .4 .2 .4-7.3 .4 3.5 .4 .4 .4 1.5 .4-4.6 .4 .2 .4 4.1 .4 .8 .4 2.5 .4 1.4 .4-3.3 .4-3.3 .4 3.5 .4-5.4 .4 3.5 .4 5.4 .4-1.2 .4-6.3 .4 6.8 .4-7.2 .4-.7 .4-3.5 .4 7.6 .4-.7 .4 4.9 .4-3 .4-3.7 .4 4.2 .4 3.8 .4 1.6 .4-5.1 .4-1.5 .4 .5 .4-.9 .4-2.1 .4 11.5 .4-6.6 .4-2 .4 4.7 .4-2.4 .4-10.6 .4 11.7 .4-6 .4-3.4 .4 5.4 .4-2.4 .4-3.7 .4 9.6 .4-5.6 .4-.8 .4-1 .4-.8 .4 1.7 .4-2 .4 12.1 .4-15.1 .4 3.9 .4-2.2 .4-1 .4-1.6 .4 4 .4 3.1 .4 .8 .4-1.8 .4-3.9 .4 8.1 .4-.4 .4 0 .4-7.7 .4 3.8 .4 .4 .4-.5 .4-.1 .4-.1 .4-3 .4 5.2 .4 .5 .4-2.7 .4-2.1 .4 1.2 .4 2.8 .4-4.9 .4 2.8 .4-5.1 .4 3.9 .4-5.9 .4 .4 .4 11.2 .4-6.9 .4 3.3 .4-13.2 .4 7.9 .4 .7 .4-1.2 .4 2.7 .4-3.3 .4 7.6 .4-1.8 .4-6.1 .4 6 .4-.3 .4 4.8 .4-1.7 .4-7.3 .4 1.5 .4 6.5 .4-7.8 .4 7 .4-4.2 .4 4.5 .4 .4 .4-.3 .4-3.6 .4 3.1 .4 7.4 .4-7.5 .4 2.5 .4 4.5 .4 1.3 .4-.9 .4-4.7 .4 0 .4-.9 .4-1.1 .4 1.2 .4-4.3 .4 7 .4-3 .4 4.9 .4-.4 .4 1.1 .4-7.7 .4 1.8 .4-2 .4-3.1 .4 2.9 .4-.7 .4 6.4 .4-13.8 .4 11.1 .4-2.9 .4-1 .4 .3 .4 2.5 .4-2.1 .4 8.5 .4-7.7 .4-2.4 .4-.2 .4 1.2 .4 6.4 .4-3.6 .4 3.1 .4-9.1 .4 2.8 .4 2.3 .4-1 .4 3.3 .4 1.3 .4-4.8 .4-8.7 .4 6.8 .4-.9 .4 6.2 .4 5.2 .4-6 .4 5.2 .4-5.2 .4 2.7 .4-2.8 .4 1.6 .4-5.9 .4 2.3 .4 6.5 .4-1.7 .4-11 .4 12.1 .4 .9 .4-5 .4 2.4 .4-4.4 .4 4.8 .4-.3 .4-1.8 .4 1.4 .4-1.6 .4 4.4 .4-4.5 .4 3.6 .4-.2 .4-3.6 .4 .5 .4 3.6 .4 3.9 .4-6.9 .4 2 .4 .1 .4-5.2 .4 6 .4 3.5 .4 .4 .4-4.3 .4 3.8 .4-2.6 .4 2.3 .4 2.1 .4-5.5 .4 4.1 .4-7.4 .4 9.2 .4-8.9 .4 5.2 .4-.5 .4 3.6 .4 3.1 .4-7 .4 .6 .4-3.8 .4 5.6 .4 1.5 .4 .6 .4-10.1 .4 2.8 .4 6.2 .4 .1 .4-10.4 .4 4.3 .4-4.9 .4 7 .4 1.1 .4 .7 .4 .3 .4 .7 .4-2.7 .4-5.1 .4 6 .4 1.8 .4-7.7 .4 1.4 .4 7.5 .4 1.4 .4-7.5 .4-3.1 .4 2.4 .4-.9 .4 1.2 .4 4.4 .4-9.6 .4-4 .4 17.5 .4-9.6 .4 7 .4-10.6 .4 9.6 .4-11.3 .4 5 .4-1.5 .4 6.8 .4-5.6 .4 .1 .4 5.8 .4 3 .4-4.1 .4-.7 .4 1.7 .4 2.9 .4-7.5 .4-2.2 .4 9.7 .4-1.8 .4-9.4 .4 6.8 .4-1.7 .4-2 .4-4 .4-4.6 .4 6.2 .4 1.4 .4 5.8 .4-10.9 .4 8.2 .4-3 .4 1.9 .4 4 .4-8.8 .4 1.8 .4-6.5 .4 3.4 .4 7.7 .4 1.5 .4-6.6 .4-.8 .4 1.8 .4-.6 .4 6.8 .4-11.4 .4-2.4 .4 3.3 .4-1.9 .4 5.7 .4 .2 .4-5.1 .4 5.5 .4-.6 .4 2.1 .4-2.8 .4 1 .4 .6 .4 5.8 .4-8.4 .4 2.1 .4 2.5 .4-.3 .4 4.5 .4-4.8 .4 2.5 .4-.8 .4-2.7 .4 2.3 .4 1.4 .4-2.4 .4 11.9 .4-8.2 .4 2.9 .4 2.2 .4 1.2 .4-13.3 .4 4.1 .4-2.6 .4 3.1 .4 .4 .4-3.9 .4 9 .4 .5 .4-7 .4 4.7 .4 .6 .4-.8 .4-7.1 .4 13.2 .4 1.5 .4-11.9 .4 0 .4-3 .4 6.8 .4-2.2 .4 1.7 .4-3.2 .4-2.9 .4 1 .4 1.1 .4 2.6 .4-1.3 .4 3.4 .4-.4 .4 .8 .4-2.3 .4 9.6 .4-3.3 .4-9.3 .4-2 .4 6.4 .4-.7 .4 .8 .4-4.5 .4-1.8 .4 3.1 .4 6.7 .4-6.7 .4 3.3 .4-4.3 .4-1.1 .4 .4 .4-5.1 .4 5.6 .4 5.4 .4-3 .4-3.1 .4 2.6 .4 1 .4 3.9 .4-7.7 .4 2.4 .4 .9 .4 2.4 .4-11.4 .4 6.2 .4-5.4 .4 3.2 .4 4 .4 4.7 .4-6.9 .4-.7 .4-2.1 .4-1.3 .4 1.7 .4 5.2 .4-9.5 .4 6.6 .4-1.6 .4-1.3 .4 4.5 .4-3.7 .4-1 .4 1.7 .4-3.4 .4-.4 .4 2.9 .4-1.3 .4 7.1 .4-3.4 .4-3.8 .4 3.7 .4 2.8 .4-.4 .4 4 .4-8.8 .4 7.4 .4-5.8 .4 1.6 .4-3.3 .4-.7 .4 10 .4 .2 .4-5.7 .4 1.8 .4-2.3 .4 8.5 .4-15.8 .4 11.8 .4-15.9 .4 15.5 .4 1.7 .4-12.1 .4 1.7 .4 2.3 .4 4.8 .4-12.7 .4 6.9 .4 2.8 .4 .3 .4-.5 .4-3.9 .4 .2 .4-.5 .4 10.9 .4-12.3 .4 4.6 .4-1.7 .4 .8 .4 1.9 .4-2.8 .4 2.4 .4-1.4 .4 4.5 .4-3.7 .4 1.9 .4 .1 .4 11.4 .4-4.5 .4-10.5 .4 1.5 .4-2.1 .4 3.8 .4 1 .4-2 .4 3.6 .4-2.9 .4 1.3 .4-6.1 .4 8.8 .4-5.7 .4 .6 .4 4.9 .4-7.2 .4 8.5 .4-2.7 .4-.1 .4-6 .4 .2 .4 4.8 .4-1.4 .4-2.6 .4 3.1 .4-2.8 .4 2.5 .4 2.3 .4-5 .4 .1 .4 2.5 .4-1.2 .4 1.3 .4 .5 .4-6.3 .4 11.6 .4-6.2 .4 1 .4-4.5 .4 3.3 .4-.1 .4-2.5 .4 2.9 .4-4.6 .4 13.5 .4-7.1 .4 1 .4-.6 .4-3.7 .4 3.1 .4-9.4 .4 5.8 .4 5.7 .4-2.9 .4-6.6 .4 2.6 .4 8 .4-9.1 .4 6.4 .4-6.6 .4 9.5 .4-1.4 .4 1.4 .4-4.5 .4 2.4 .4-.7"/>
</g>
<g id="markers" fill="#000">
<path d="M756.9 328.9L777.9 349.9L756.9 370.9L735.9 349.9ZM829.8 359.0L850.8 380.0L829.8 401.0L808.8 380.0ZM893.8 362.9L914.8 383.9L893.8 404.9L872.8 383.9ZM944.9 396.9L965.9 417.9L944.9 438.9L923.9 417.9ZM975.0 316.0L996.0 337.0L975.0 358.0L954.0 337.0ZM1005.0 256.9L1026.0 277.9L1005.0 298.9L984.0 277.9ZM1132.9 404.9L1153.9 425.9L1132.9 446.9L1111.9 425.9ZM1171.0 391.9L1192.0 412.9L1171.0 433.9L1150.0 412.9ZM1246.9 404.9L1267.9 425.9L1246.9 446.9L1225.9 425.9ZM1269.0 397.1L1290.0 418.1L1269.0 439.1L1248.0 418.1ZM1333.0 383.9L1354.0 404.9L1333.0 425.9L1312.0 404.9ZM1047.0 108.8L1068.0 129.8L1047.0 150.8L1026.0 129.8ZM610.9 1374.5h44L632.9 1411.8ZM632.9 1344.2h44L654.9 1381.5ZM704.9 1234.4h44L726.9 1271.7ZM717.9 1124.2h44L739.9 1161.5ZM778.0 1327.7h44L800.0 1365.0ZM943.6 1256.3h44L965.6 1293.6ZM922.0 1327.3h44L944.0 1364.6ZM961.2 1349.3h44L983.2 1386.6ZM1110.6 1404.4h44L1132.6 1441.7ZM1187.0 1395.4h44L1209.0 1432.7ZM1263.6 1408.4h44L1285.6 1445.7ZM931.0 1103.6h44L953.0 1140.9ZM747.1 1381.9h37v37h-37ZM801.7 1373.9h37v37h-37ZM921.9 1285.1h37v37h-37ZM969.0 1297.1h37v37h-37ZM990.1 1174.3h37v37h-37Z"/>
<circle cx="611.5" cy="888" r="20.7"/>
<circle cx="812.5" cy="764.8" r="20.7"/>
<circle cx="846" cy="870.8" r="20.7"/>
<circle cx="880.6" cy="861.7" r="20.7"/>
<circle cx="927.6" cy="878.6" r="20.7"/>
<circle cx="956.4" cy="908.6" r="20.7"/>
<circle cx="1012.6" cy="913" r="20.7"/>
<circle cx="1127.4" cy="912.7" r="20.7"/>
<circle cx="1370.5" cy="632.5" r="20.7"/>
</g>
<g id="labels" font-family="'Liberation Serif', 'DejaVu Serif', serif" font-weight="bold" fill="#000">
<text transform="translate(1071.35 148.50) scale(1 1.03)" font-size="51">:</text>
<text transform="translate(1102.15 148.50) scale(1 1.03)" font-size="51" letter-spacing="-0.39">Potasium</text>
<text transform="translate(1319.30 148.50) scale(1 1.03)" font-size="51" letter-spacing="0.28">sulfate</text>
<text transform="translate(1477.95 151.05) scale(1 1.0609)" font-size="51">[</text>
<text transform="translate(1494.55 148.50) scale(1 1.03)" font-size="51">K</text>
<text transform="translate(1533.25 169.50) scale(1 1.03)" font-size="31">2</text>
<text transform="translate(1551.25 148.50) scale(1 1.03)" font-size="51" letter-spacing="1.05">SO</text>
<text transform="translate(1619.70 169.50) scale(1 1.03)" font-size="31">4</text>
<text transform="translate(1634.55 151.05) scale(1 1.0609)" font-size="51">]</text>
<text transform="translate(1395.25 650.80) scale(1 1.03)" font-size="51">:</text>
<text transform="translate(1425.95 650.80) scale(1 1.03)" font-size="51" letter-spacing="0.04">Sulfur</text>
<text transform="translate(1580.95 653.35) scale(1 1.0609)" font-size="51">[</text>
<text transform="translate(1595.75 650.80) scale(1 1.03)" font-size="51">S</text>
<text transform="translate(1622.95 653.35) scale(1 1.0609)" font-size="51">]</text>
<text transform="translate(979.25 1139.80) scale(1 1.03)" font-size="51">:</text>
<text transform="translate(1008.70 1139.80) scale(1 1.03)" font-size="51" letter-spacing="-0.09">Ammonium</text>
<text transform="translate(1282.10 1139.80) scale(1 1.03)" font-size="51" letter-spacing="0.36">sulfate</text>
<text transform="translate(1442.15 1142.35) scale(1 1.0609)" font-size="51">[</text>
<text transform="translate(1457.45 1139.80) scale(1 1.03)" font-size="51">(</text>
<text transform="translate(1474.10 1139.80) scale(1 1.03)" font-size="51" letter-spacing="-2.15">NH</text>
<text transform="translate(1553.20 1160.80) scale(1 1.03)" font-size="31">4</text>
<text transform="translate(1568.75 1139.80) scale(1 1.03)" font-size="51">)</text>
<text transform="translate(1585.75 1160.80) scale(1 1.03)" font-size="31">2</text>
<text transform="translate(1604.45 1139.80) scale(1 1.03)" font-size="51" letter-spacing="1.55">SO</text>
<text transform="translate(1673.30 1160.80) scale(1 1.03)" font-size="31">4</text>
<text transform="translate(1687.45 1142.35) scale(1 1.0609)" font-size="51">]</text>
<text transform="translate(1030.25 1210.00) scale(1 1.03)" font-size="51">:</text>
<text transform="translate(1057.15 1210.00) scale(1 1.03)" font-size="51" letter-spacing="-0.32">Magnesium</text>
<text transform="translate(1327.05 1210.00) scale(1 1.03)" font-size="51" letter-spacing="0.09">chloride</text>
<text transform="translate(1519.45 1212.55) scale(1 1.0609)" font-size="51">[</text>
<text transform="translate(1536.25 1210.00) scale(1 1.03)" font-size="51" letter-spacing="-1.33">MgCl</text>
<text transform="translate(1655.25 1231.00) scale(1 1.03)" font-size="31">2</text>
<text transform="translate(1672.45 1212.55) scale(1 1.0609)" font-size="51">]</text>
<text x="227.40" y="173.30" font-size="100" letter-spacing="2.30">(c)</text>
<text x="219.50" y="677.60" font-size="100" letter-spacing="1.78">(b)</text>
<text x="231.20" y="1190.00" font-size="100" letter-spacing="1.93">(a)</text>
<text transform="translate(188.65 1671.50) scale(1 1.035)" font-size="84">0</text>
<text transform="translate(423.05 1671.50) scale(1 1.035)" font-size="84" letter-spacing="2.20">10</text>
<text transform="translate(677.55 1671.50) scale(1 1.035)" font-size="84" letter-spacing="4.80">20</text>
<text transform="translate(933.65 1671.50) scale(1 1.035)" font-size="84" letter-spacing="4.60">30</text>
<text transform="translate(1193.65 1671.50) scale(1 1.035)" font-size="84" letter-spacing="-0.40">40</text>
<text transform="translate(1447.45 1671.50) scale(1 1.035)" font-size="84" letter-spacing="1.70">50</text>
<text transform="translate(1702.75 1671.50) scale(1 1.035)" font-size="84" letter-spacing="2.60">60</text>
<text transform="translate(617.00 1760.60) scale(1 1.035)" font-size="84">2</text>
<text transform="translate(663.73 1764.60) scale(.912 1)" font-family="IPAGothic, 'Noto Sans CJK JP', sans-serif" font-weight="normal" font-size="88.63" stroke="#000" stroke-width="3.6" stroke-linejoin="round">θ</text>
<text transform="translate(794.55 1764.80) scale(1 1.06605)" font-size="84">[</text>
<text transform="translate(819.90 1760.60) scale(1 1.035)" font-size="84" letter-spacing="2.85">CuK</text>
<text transform="translate(997.40 1764.60) scale(.922 1)" font-family="IPAGothic, 'Noto Sans CJK JP', sans-serif" font-weight="normal" font-size="90.24" stroke="#000" stroke-width="3.6" stroke-linejoin="round">α</text>
<text transform="translate(1102.15 1760.60) scale(1 1.035)" font-size="84" letter-spacing="1.31">(degree)</text>
<text transform="translate(1400.65 1764.80) scale(1 1.06605)" font-size="84">]</text>
<text transform="translate(108.40 1100.00) rotate(-90) scale(1 1.035)" x="36.45" font-size="84" letter-spacing="0.33">Intensity</text>
<text transform="translate(112.60 1100.00) rotate(-90) scale(1 1.06605)" x="379.95" font-size="84">[</text>
<text transform="translate(108.40 1100.00) rotate(-90) scale(1 1.035)" x="406.25" font-size="84" letter-spacing="0.50">a.</text>
<text transform="translate(108.40 1100.00) rotate(-90) scale(1 1.035)" x="492.95" font-size="84" letter-spacing="-1.95">u.</text>
<text transform="translate(112.60 1100.00) rotate(-90) scale(1 1.06605)" x="556.25" font-size="84">]</text>
</g>
</svg>
</body>
</html>
